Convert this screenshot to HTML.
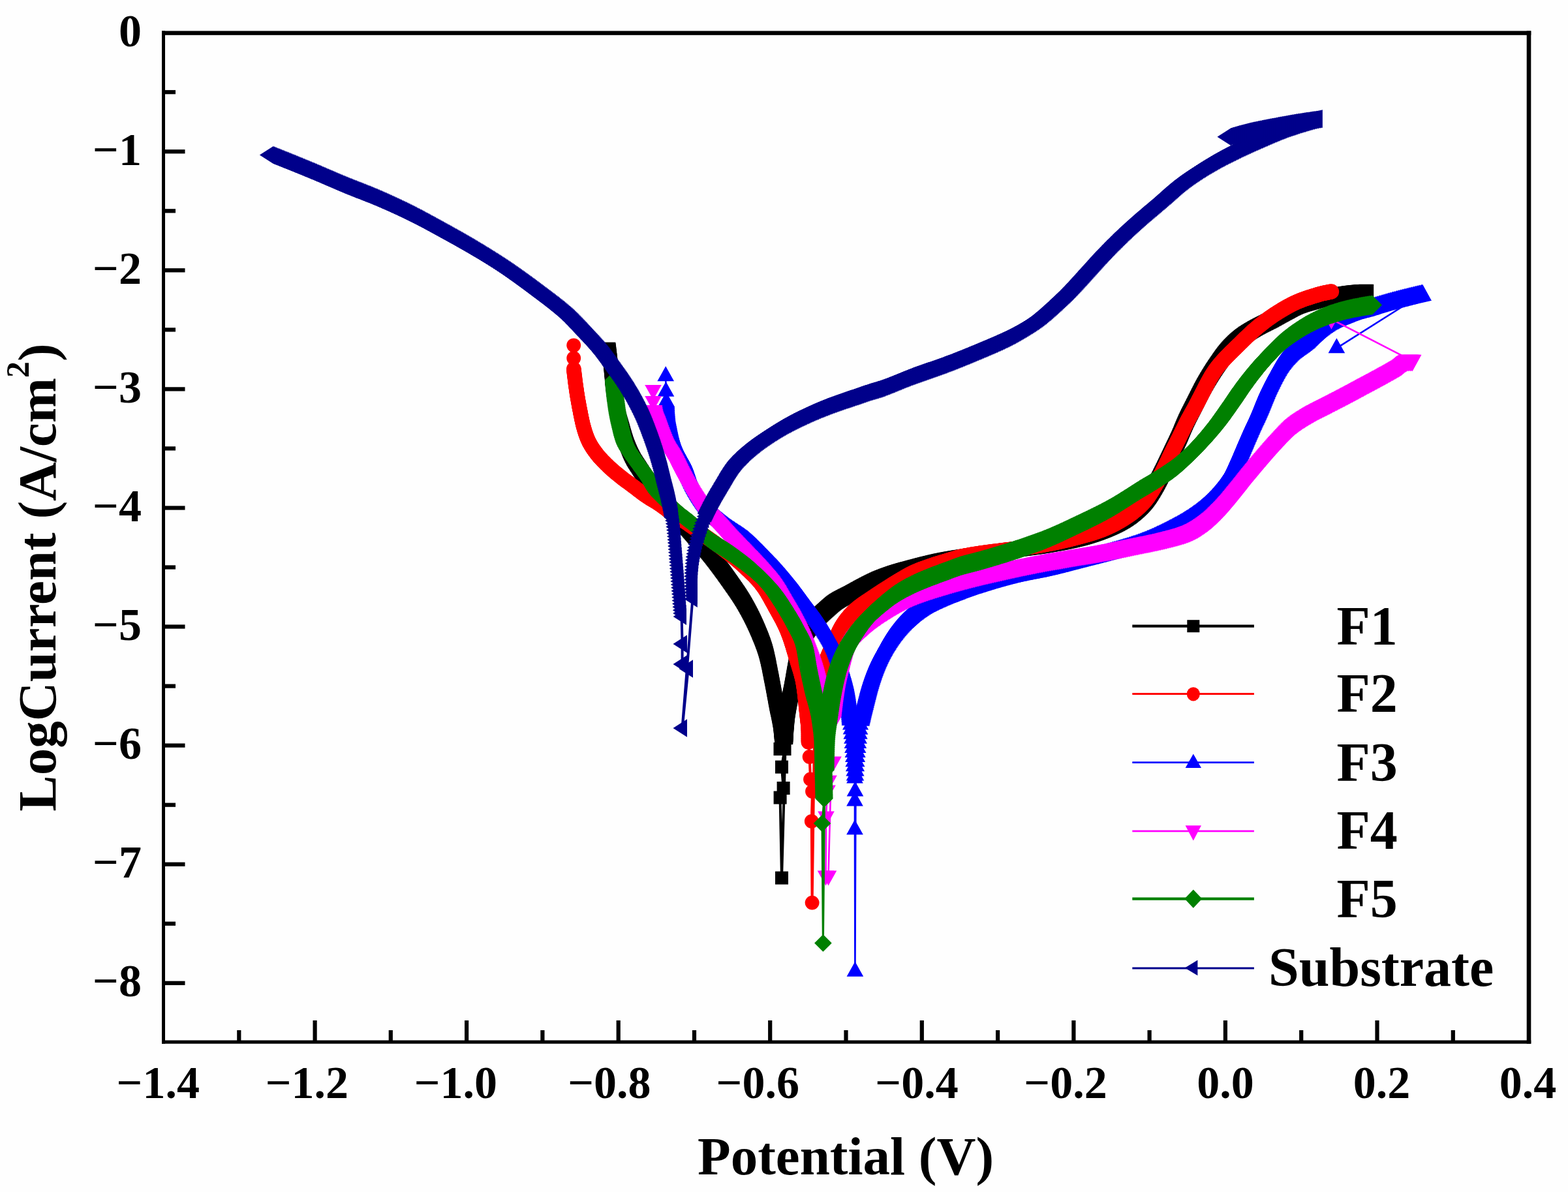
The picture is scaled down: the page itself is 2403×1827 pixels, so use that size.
<!DOCTYPE html>
<html lang="en"><head><meta charset="utf-8"><title>Polarization curves</title>
<style>html,body{margin:0;padding:0;background:#fefefe}body{width:2403px;height:1827px;overflow:hidden}svg{display:block}text{font-family:"Liberation Serif",serif;font-weight:bold;fill:#000}.tk{font-size:70px}.ti{font-size:83px}.lg{font-size:84px}</style></head><body>
<svg xmlns="http://www.w3.org/2000/svg" width="2403" height="1827" viewBox="0 0 2403 1827">
<rect x="0" y="0" width="2403" height="1827" fill="#fefefe"/>
<g id="plot">
<g id="F1">
<polyline fill="none" stroke="#000000" stroke-width="4.0" stroke-linejoin="round" points="1198,1137.5 1195.5,1148 1202.5,1148 1198,1175.6 1200.6,1208 1195.6,1222.5 1198,1345.6 1204,1130"/>
<marker id="m1_0" markerUnits="userSpaceOnUse" markerWidth="60" markerHeight="60" viewBox="-30 -30 60 60" refX="0" refY="0" overflow="visible" fill="#000000"><polygon points="-10.4,-10.4 10.4,-10.4 10.4,10.4 -10.4,10.4"/></marker>
<polyline fill="none" stroke="none" marker-start="url(#m1_0)" marker-mid="url(#m1_0)" marker-end="url(#m1_0)" points="933,535 933.2,536.5 933.4,538 933.6,539.5 933.8,540.9 933.9,542.4 934.1,543.9 934.3,545.4 934.5,546.9 934.7,548.4 934.8,549.9 935,551.4 935.2,552.8 935.4,554.3 935.5,555.8 935.7,557.3 935.9,558.8 936,560.3 936.2,561.8 936.3,563.3 936.5,564.8 936.6,566.3 936.8,567.7 936.9,569.2 937.1,570.7 937.2,572.2 937.3,573.7 937.5,575.2 937.6,576.7 937.7,578.2 937.9,579.7 938,581.2 938.2,582.7 938.3,584.2 938.5,585.6 938.7,587.1 938.8,588.6 939,590.1 939.2,591.6 939.4,593.1 939.6,594.6 939.8,596.1 940,597.5 940.2,599 940.5,600.5 940.7,602 940.9,603.5 941.2,604.9 941.4,606.4 941.7,607.9 941.9,609.4 942.2,610.8 942.4,612.3 942.7,613.8 943,615.3 943.3,616.7 943.6,618.2 943.8,619.7 944.1,621.2 944.4,622.6 944.7,624.1 945,625.6 945.4,627 945.7,628.5 946,630 946.3,631.4 946.7,632.9 947,634.3 947.4,635.8 947.8,637.2 948.2,638.7 948.6,640.1 949,641.6 949.4,643 949.8,644.4 950.3,645.9 950.7,647.3 951.1,648.7 951.6,650.2 952,651.6 952.4,653 952.8,654.5 953.3,655.9 953.7,657.4 954.1,658.8 954.5,660.2 954.9,661.7 955.3,663.1 955.7,664.6 956.1,666 956.5,667.4 957,668.9 957.4,670.3 957.8,671.8 958.2,673.2 958.7,674.6 959.2,676 959.6,677.5 960.1,678.9 960.6,680.3 961.1,681.7 961.6,683.1 962.2,684.5 962.7,685.9 963.3,687.3 963.8,688.7 964.4,690.1 965,691.5 965.6,692.8 966.2,694.2 966.8,695.6 967.5,696.9 968.1,698.3 968.8,699.6 969.5,700.9 970.2,702.3 970.9,703.6 971.6,704.9 972.4,706.2 973.2,707.5 974,708.7 974.8,710 975.6,711.2 976.4,712.5 977.2,713.7 978.1,715 978.9,716.2 979.7,717.5 980.5,718.8 981.3,720 982.1,721.3 983,722.5 983.8,723.8 984.6,725.1 985.4,726.3 986.2,727.6 987.1,728.8 987.9,730.1 988.7,731.3 989.5,732.6 990.3,733.8 991.2,735.1 992,736.3 992.8,737.6 993.5,738.9 994.3,740.2 995.1,741.5 995.8,742.8 996.5,744.1 997.3,745.4 998,746.7 998.7,748 999.5,749.3 1000.2,750.6 1001,751.9 1001.8,753.2 1002.6,754.5 1003.4,755.7 1004.2,756.9 1005.1,758.1 1006,759.3 1007,760.5 1007.9,761.6 1008.9,762.8 1010,763.9 1011,764.9 1012,766 1013.1,767.1 1014.1,768.1 1015.2,769.2 1016.3,770.2 1017.3,771.3 1018.4,772.3 1019.5,773.4 1020.5,774.5 1021.6,775.5 1022.6,776.6 1023.6,777.7 1024.7,778.8 1025.7,779.9 1026.7,781 1027.8,782 1028.8,783.1 1029.9,784.2 1030.9,785.3 1031.9,786.4 1033,787.4 1034,788.5 1035.1,789.6 1036.1,790.7 1037.1,791.8 1038.2,792.9 1039.2,794 1040.2,795.1 1041.2,796.2 1042.2,797.3 1043.2,798.4 1044.3,799.5 1045.3,800.6 1046.3,801.7 1047.3,802.8 1048.2,803.9 1049.2,805.1 1050.2,806.2 1051.2,807.3 1052.2,808.4 1053.2,809.6 1054.2,810.7 1055.2,811.8 1056.2,813 1057.1,814.1 1058.1,815.2 1059.1,816.3 1060.1,817.5 1061.1,818.6 1062,819.7 1063,820.9 1064,822 1065,823.1 1066,824.3 1067,825.4 1067.9,826.5 1068.9,827.6 1069.9,828.8 1070.9,829.9 1071.9,831 1072.9,832.2 1073.9,833.3 1074.9,834.4 1075.8,835.5 1076.8,836.7 1077.8,837.8 1078.8,838.9 1079.8,840.1 1080.7,841.2 1081.7,842.4 1082.7,843.5 1083.6,844.7 1084.6,845.8 1085.5,847 1086.5,848.1 1087.4,849.3 1088.4,850.5 1089.3,851.6 1090.2,852.8 1091.2,854 1092.1,855.2 1093,856.3 1093.9,857.5 1094.8,858.7 1095.8,859.9 1096.7,861.1 1097.6,862.3 1098.5,863.5 1099.4,864.7 1100.3,865.9 1101.2,867.1 1102.1,868.3 1103,869.5 1103.9,870.7 1104.8,871.9 1105.6,873.1 1106.5,874.3 1107.4,875.5 1108.3,876.7 1109.2,877.9 1110.1,879.1 1110.9,880.4 1111.8,881.6 1112.7,882.8 1113.5,884 1114.4,885.2 1115.3,886.5 1116.1,887.7 1117,888.9 1117.9,890.1 1118.7,891.4 1119.6,892.6 1120.5,893.8 1121.3,895 1122.2,896.3 1123,897.5 1123.9,898.7 1124.8,899.9 1125.6,901.2 1126.5,902.4 1127.3,903.6 1128.2,904.9 1129,906.1 1129.9,907.4 1130.7,908.6 1131.5,909.8 1132.4,911.1 1133.2,912.3 1134,913.6 1134.8,914.9 1135.6,916.1 1136.4,917.4 1137.2,918.7 1138,919.9 1138.8,921.2 1139.5,922.5 1140.3,923.8 1141.1,925.1 1141.8,926.4 1142.5,927.7 1143.3,929 1144,930.3 1144.7,931.6 1145.5,932.9 1146.2,934.2 1146.9,935.6 1147.6,936.9 1148.3,938.2 1149,939.5 1149.7,940.9 1150.4,942.2 1151.1,943.5 1151.7,944.9 1152.4,946.2 1153.1,947.5 1153.7,948.9 1154.4,950.2 1155,951.6 1155.7,952.9 1156.3,954.3 1156.9,955.7 1157.6,957 1158.2,958.4 1158.8,959.8 1159.4,961.1 1160,962.5 1160.6,963.9 1161.2,965.2 1161.8,966.6 1162.4,968 1162.9,969.4 1163.5,970.8 1164.1,972.2 1164.7,973.5 1165.2,974.9 1165.8,976.3 1166.4,977.7 1166.9,979.1 1167.5,980.5 1168,981.9 1168.5,983.3 1169,984.7 1169.6,986.1 1170.1,987.5 1170.6,988.9 1171,990.3 1171.5,991.8 1172,993.2 1172.4,994.6 1172.9,996.1 1173.3,997.5 1173.7,998.9 1174.1,1000.4 1174.5,1001.8 1174.9,1003.3 1175.2,1004.7 1175.6,1006.2 1175.9,1007.6 1176.3,1009.1 1176.6,1010.6 1176.9,1012 1177.2,1013.5 1177.6,1015 1177.9,1016.4 1178.2,1017.9 1178.5,1019.4 1178.8,1020.8 1179,1022.3 1179.3,1023.8 1179.6,1025.2 1179.9,1026.7 1180.2,1028.2 1180.5,1029.7 1180.8,1031.1 1181,1032.6 1181.3,1034.1 1181.6,1035.5 1181.9,1037 1182.2,1038.5 1182.5,1039.9 1182.8,1041.4 1183.1,1042.9 1183.3,1044.4 1183.6,1045.8 1183.9,1047.3 1184.2,1048.8 1184.4,1050.3 1184.7,1051.7 1185,1053.2 1185.3,1054.7 1185.5,1056.1 1185.8,1057.6 1186.1,1059.1 1186.3,1060.6 1186.6,1062 1186.9,1063.5 1187.2,1065 1187.4,1066.5 1187.7,1067.9 1188,1069.4 1188.2,1070.9 1188.5,1072.4 1188.8,1073.8 1189.1,1075.3 1189.3,1076.8 1189.6,1078.2 1189.9,1079.7 1190.2,1081.2 1190.5,1082.7 1190.8,1084.1 1191.1,1085.6 1191.5,1087.1 1191.8,1088.5 1192.1,1090 1192.4,1091.4 1192.7,1092.9 1193,1094.4 1193.3,1095.9 1193.6,1097.3 1193.9,1098.8 1194.1,1100.3 1194.4,1101.7 1194.7,1103.2 1194.9,1104.7 1195.2,1106.2 1195.4,1107.7 1195.6,1109.1 1195.8,1110.6 1196,1112.1 1196.1,1113.6 1196.3,1115.1 1196.4,1116.6 1196.6,1118.1 1196.7,1119.6 1196.9,1121.1 1197,1122.5 1197.1,1124 1197.3,1125.5 1197.4,1127 1197.5,1128.5 1197.6,1130 1197.7,1131.5 1197.8,1133 1197.9,1134.5 1197.9,1136 1198,1137.5"/>
<marker id="m1_1" markerUnits="userSpaceOnUse" markerWidth="60" markerHeight="60" viewBox="-30 -30 60 60" refX="0" refY="0" overflow="visible" fill="#000000"><polygon points="-11.2,-11.2 11.2,-11.2 11.2,11.2 -11.2,11.2"/></marker>
<polyline fill="none" stroke="none" marker-start="url(#m1_1)" marker-mid="url(#m1_1)" marker-end="url(#m1_1)" points="1204,1130 1204,1128.5 1204.1,1127 1204.2,1125.5 1204.2,1124 1204.3,1122.5 1204.4,1121 1204.5,1119.5 1204.6,1118 1204.7,1116.5 1204.8,1115 1204.9,1113.5 1205,1112 1205.1,1110.5 1205.2,1109 1205.3,1107.5 1205.5,1106.1 1205.6,1104.6 1205.7,1103.1 1205.9,1101.6 1206,1100.1 1206.1,1098.6 1206.3,1097.1 1206.5,1095.6 1206.6,1094.1 1206.8,1092.6 1207,1091.1 1207.2,1089.7 1207.5,1088.2 1207.7,1086.7 1207.9,1085.2 1208.2,1083.7 1208.4,1082.2 1208.7,1080.8 1208.9,1079.3 1209.2,1077.8 1209.5,1076.3 1209.7,1074.9 1210,1073.4 1210.3,1071.9 1210.6,1070.4 1210.9,1069 1211.1,1067.5 1211.4,1066 1211.7,1064.6 1212,1063.1 1212.3,1061.6 1212.6,1060.1 1212.9,1058.7 1213.2,1057.2 1213.4,1055.7 1213.7,1054.3 1214,1052.8 1214.3,1051.3 1214.5,1049.8 1214.8,1048.4 1215.1,1046.9 1215.3,1045.4 1215.6,1043.9 1215.8,1042.4 1216.1,1041 1216.3,1039.5 1216.6,1038 1216.9,1036.5 1217.1,1035.1 1217.4,1033.6 1217.6,1032.1 1217.9,1030.6 1218.2,1029.1 1218.4,1027.7 1218.7,1026.2 1219,1024.7 1219.3,1023.3 1219.5,1021.8 1219.8,1020.3 1220.1,1018.8 1220.4,1017.4 1220.7,1015.9 1221,1014.4 1221.3,1013 1221.7,1011.5 1222,1010 1222.3,1008.6 1222.7,1007.1 1223,1005.6 1223.3,1004.2 1223.7,1002.7 1224,1001.3 1224.3,999.8 1224.7,998.3 1225.1,996.9 1225.4,995.4 1225.8,994 1226.2,992.5 1226.6,991.1 1227,989.6 1227.4,988.2 1227.8,986.8 1228.2,985.3 1228.7,983.9 1229.2,982.5 1229.6,981.1 1230.2,979.6 1230.7,978.2 1231.2,976.8 1231.8,975.5 1232.4,974.1 1233.1,972.7 1233.7,971.4 1234.5,970.1 1235.2,968.8 1236,967.5 1236.9,966.3 1237.7,965 1238.6,963.8 1239.5,962.6 1240.4,961.4 1241.3,960.2 1242.3,959.1 1243.2,957.9 1244.2,956.8 1245.1,955.6 1246.1,954.5 1247.1,953.3 1248.1,952.2 1249.1,951.1 1250,950 1251,948.8 1252,947.7 1253.1,946.6 1254.1,945.5 1255.2,944.5 1256.2,943.4 1257.3,942.4 1258.4,941.4 1259.5,940.3 1260.6,939.3 1261.7,938.3 1262.8,937.3 1263.9,936.3 1265.1,935.3 1266.2,934.3 1267.3,933.3 1268.4,932.3 1269.5,931.3 1270.6,930.3 1271.8,929.3 1272.9,928.3 1274,927.3 1275.2,926.4 1276.4,925.4 1277.5,924.5 1278.7,923.6 1279.9,922.7 1281.2,921.9 1282.4,921.1 1283.7,920.3 1285,919.5 1286.3,918.7 1287.6,918 1288.9,917.3 1290.2,916.6 1291.6,915.9 1292.9,915.2 1294.2,914.5 1295.6,913.8 1296.9,913.2 1298.3,912.5 1299.6,911.8 1300.9,911.1 1302.3,910.5 1303.6,909.8 1304.9,909.1 1306.2,908.4 1307.6,907.6 1308.9,906.9 1310.2,906.2 1311.5,905.5 1312.8,904.7 1314.1,904 1315.4,903.3 1316.8,902.6 1318.1,901.8 1319.4,901.1 1320.7,900.4 1322,899.7 1323.3,899 1324.7,898.3 1326,897.6 1327.3,896.9 1328.6,896.2 1330,895.5 1331.3,894.8 1332.7,894.1 1334,893.5 1335.3,892.8 1336.7,892.1 1338,891.5 1339.4,890.8 1340.7,890.2 1342.1,889.5 1343.4,888.9 1344.8,888.3 1346.2,887.6 1347.5,887 1348.9,886.5 1350.3,885.9 1351.7,885.3 1353.1,884.8 1354.5,884.2 1355.9,883.7 1357.3,883.1 1358.7,882.6 1360.1,882.1 1361.5,881.6 1362.9,881.1 1364.3,880.6 1365.7,880.1 1367.2,879.6 1368.6,879.1 1370,878.6 1371.4,878.1 1372.9,877.7 1374.3,877.2 1375.7,876.8 1377.1,876.3 1378.6,875.9 1380,875.5 1381.5,875.1 1382.9,874.6 1384.3,874.2 1385.8,873.8 1387.2,873.4 1388.7,873 1390.1,872.6 1391.6,872.3 1393,871.9 1394.5,871.5 1395.9,871.1 1397.4,870.7 1398.8,870.3 1400.3,869.9 1401.7,869.5 1403.2,869.1 1404.6,868.8 1406.1,868.4 1407.5,868 1409,867.6 1410.4,867.2 1411.9,866.8 1413.3,866.4 1414.8,866.1 1416.2,865.7 1417.7,865.3 1419.1,864.9 1420.6,864.6 1422,864.2 1423.5,863.9 1424.9,863.5 1426.4,863.2 1427.9,862.8 1429.3,862.5 1430.8,862.1 1432.2,861.8 1433.7,861.5 1435.2,861.1 1436.6,860.8 1438.1,860.5 1439.6,860.1 1441,859.8 1442.5,859.5 1444,859.2 1445.4,858.9 1446.9,858.6 1448.4,858.3 1449.8,858 1451.3,857.8 1452.8,857.5 1454.3,857.2 1455.7,856.9 1457.2,856.7 1458.7,856.4 1460.2,856.2 1461.6,855.9 1463.1,855.7 1464.6,855.4 1466.1,855.2 1467.6,854.9 1469,854.7 1470.5,854.5 1472,854.2 1473.5,854 1475,853.8 1476.5,853.5 1477.9,853.3 1479.4,853.1 1480.9,852.9 1482.4,852.6 1483.9,852.4 1485.3,852.2 1486.8,852 1488.3,851.7 1489.8,851.5 1491.3,851.3 1492.8,851.1 1494.2,850.9 1495.7,850.6 1497.2,850.4 1498.7,850.2 1500.2,850 1501.7,849.8 1503.1,849.5 1504.6,849.3 1506.1,849.1 1507.6,848.9 1509.1,848.7 1510.6,848.5 1512.1,848.2 1513.5,848 1515,847.8 1516.5,847.6 1518,847.4 1519.5,847.2 1521,847 1522.4,846.8 1523.9,846.6 1525.4,846.4 1526.9,846.2 1528.4,846 1529.9,845.8 1531.4,845.6 1532.8,845.4 1534.3,845.2 1535.8,845 1537.3,844.8 1538.8,844.6 1540.3,844.3 1541.8,844.1 1543.3,843.9 1544.7,843.7 1546.2,843.5 1547.7,843.3 1549.2,843.1 1550.7,842.9 1552.2,842.7 1553.6,842.5 1555.1,842.3 1556.6,842.1 1558.1,841.9 1559.6,841.7 1561.1,841.5 1562.6,841.3 1564.1,841.1 1565.5,840.9 1567,840.7 1568.5,840.5 1570,840.3 1571.5,840.1 1573,839.9 1574.5,839.7 1575.9,839.5 1577.4,839.3 1578.9,839.1 1580.4,838.9 1581.9,838.7 1583.4,838.5 1584.9,838.3 1586.3,838.1 1587.8,837.9 1589.3,837.7 1590.8,837.4 1592.3,837.2 1593.8,837 1595.2,836.8 1596.7,836.5 1598.2,836.3 1599.7,836.1 1601.2,835.8 1602.6,835.6 1604.1,835.3 1605.6,835.1 1607.1,834.8 1608.6,834.6 1610,834.3 1611.5,834 1613,833.8 1614.5,833.5 1615.9,833.2 1617.4,833 1618.9,832.7 1620.4,832.4 1621.8,832.1 1623.3,831.9 1624.8,831.6 1626.3,831.3 1627.7,831 1629.2,830.7 1630.7,830.4 1632.1,830.1 1633.6,829.8 1635.1,829.5 1636.5,829.1 1638,828.8 1639.5,828.5 1640.9,828.2 1642.4,827.8 1643.8,827.5 1645.3,827.1 1646.8,826.8 1648.2,826.4 1649.7,826.1 1651.1,825.7 1652.6,825.3 1654,825 1655.5,824.6 1656.9,824.2 1658.4,823.8 1659.8,823.4 1661.3,822.9 1662.7,822.5 1664.1,822.1 1665.6,821.6 1667,821.2 1668.4,820.7 1669.9,820.3 1671.3,819.8 1672.7,819.4 1674.1,818.9 1675.5,818.4 1677,817.9 1678.4,817.4 1679.8,816.9 1681.2,816.4 1682.6,815.9 1684,815.3 1685.4,814.8 1686.8,814.3 1688.2,813.7 1689.6,813.2 1691,812.6 1692.4,812.1 1693.8,811.5 1695.2,810.9 1696.5,810.3 1697.9,809.7 1699.3,809.1 1700.7,808.5 1702,807.9 1703.4,807.3 1704.7,806.6 1706.1,806 1707.5,805.3 1708.8,804.7 1710.1,804 1711.5,803.3 1712.8,802.6 1714.1,801.9 1715.4,801.2 1716.7,800.4 1718,799.7 1719.3,798.9 1720.6,798.2 1721.9,797.4 1723.2,796.6 1724.4,795.8 1725.7,794.9 1726.9,794.1 1728.1,793.2 1729.4,792.4 1730.6,791.5 1731.8,790.6 1733,789.7 1734.1,788.7 1735.3,787.8 1736.5,786.9 1737.6,785.9 1738.8,784.9 1739.9,784 1741,783 1742.2,782 1743.3,781 1744.4,779.9 1745.4,778.9 1746.5,777.9 1747.6,776.8 1748.6,775.7 1749.7,774.6 1750.7,773.5 1751.7,772.4 1752.7,771.3 1753.7,770.2 1754.7,769 1755.6,767.9 1756.5,766.7 1757.4,765.5 1758.3,764.3 1759.2,763.1 1760.1,761.9 1760.9,760.6 1761.8,759.4 1762.6,758.1 1763.4,756.9 1764.2,755.6 1765,754.3 1765.8,753 1766.6,751.8 1767.3,750.5 1768.1,749.2 1768.9,747.9 1769.6,746.6 1770.4,745.3 1771.1,744 1771.9,742.7 1772.6,741.4 1773.3,740.1 1774,738.8 1774.7,737.4 1775.4,736.1 1776.1,734.8 1776.8,733.4 1777.5,732.1 1778.2,730.8 1778.8,729.4 1779.5,728.1 1780.2,726.7 1780.8,725.4 1781.5,724.1 1782.2,722.7 1782.8,721.4 1783.5,720 1784.2,718.7 1784.8,717.3 1785.5,716 1786.1,714.6 1786.8,713.3 1787.4,711.9 1788.1,710.6 1788.7,709.2 1789.4,707.9 1790,706.5 1790.7,705.2 1791.3,703.8 1791.9,702.5 1792.6,701.1 1793.2,699.7 1793.9,698.4 1794.5,697 1795.2,695.7 1795.8,694.3 1796.4,693 1797.1,691.6 1797.7,690.3 1798.4,688.9 1799,687.6 1799.7,686.2 1800.3,684.9 1801,683.5 1801.6,682.2 1802.3,680.8 1802.9,679.4 1803.5,678.1 1804.2,676.7 1804.8,675.4 1805.4,674 1806.1,672.6 1806.7,671.3 1807.3,669.9 1807.9,668.5 1808.5,667.2 1809.1,665.8 1809.7,664.4 1810.2,663 1810.8,661.6 1811.4,660.2 1812,658.9 1812.5,657.5 1813.1,656.1 1813.7,654.7 1814.3,653.3 1814.9,651.9 1815.5,650.6 1816.1,649.2 1816.7,647.8 1817.3,646.5 1817.9,645.1 1818.6,643.7 1819.2,642.4 1819.9,641 1820.5,639.7 1821.2,638.3 1821.8,637 1822.5,635.7 1823.2,634.3 1823.9,633 1824.6,631.6 1825.2,630.3 1825.9,629 1826.6,627.6 1827.3,626.3 1828,625 1828.7,623.6 1829.3,622.3 1830,621 1830.7,619.6 1831.4,618.3 1832,616.9 1832.7,615.6 1833.4,614.3 1834.1,612.9 1834.7,611.6 1835.4,610.2 1836.1,608.9 1836.7,607.6 1837.4,606.2 1838.1,604.9 1838.8,603.5 1839.5,602.2 1840.2,600.9 1840.8,599.5 1841.5,598.2 1842.2,596.9 1842.9,595.6 1843.7,594.2 1844.4,592.9 1845.1,591.6 1845.8,590.3 1846.6,589 1847.3,587.7 1848.1,586.4 1848.8,585.1 1849.6,583.8 1850.3,582.5 1851.1,581.2 1851.9,579.9 1852.6,578.7 1853.4,577.4 1854.2,576.1 1855,574.8 1855.8,573.5 1856.6,572.3 1857.4,571 1858.2,569.7 1859,568.5 1859.8,567.2 1860.6,566 1861.5,564.7 1862.3,563.5 1863.1,562.2 1864,561 1864.8,559.7 1865.7,558.5 1866.5,557.3 1867.4,556 1868.2,554.8 1869.1,553.6 1869.9,552.3 1870.8,551.1 1871.6,549.9 1872.5,548.7 1873.4,547.4 1874.3,546.2 1875.2,545 1876.1,543.8 1877,542.6 1877.9,541.5 1878.9,540.3 1879.8,539.1 1880.8,538 1881.7,536.8 1882.7,535.7 1883.7,534.6 1884.7,533.5 1885.7,532.4 1886.7,531.3 1887.8,530.2 1888.8,529.1 1889.9,528 1891,527 1892,525.9 1893.1,524.9 1894.2,523.9 1895.3,522.9 1896.4,521.9 1897.6,520.9 1898.7,519.9 1899.9,519 1901,518 1902.2,517.1 1903.4,516.1 1904.6,515.2 1905.8,514.3 1907,513.5 1908.2,512.6 1909.4,511.7 1910.7,510.9 1912,510.1 1913.2,509.3 1914.5,508.5 1915.8,507.7 1917.1,506.9 1918.3,506.2 1919.6,505.4 1920.9,504.7 1922.2,503.9 1923.5,503.2 1924.8,502.4 1926.2,501.7 1927.5,501 1928.8,500.3 1930.1,499.6 1931.4,498.9 1932.8,498.2 1934.1,497.5 1935.5,496.9 1936.8,496.2 1938.1,495.5 1939.5,494.9 1940.8,494.2 1942.2,493.5 1943.5,492.8 1944.9,492.2 1946.2,491.5 1947.5,490.8 1948.8,490.1 1950.1,489.3 1951.5,488.6 1952.8,487.9 1954.1,487.2 1955.4,486.4 1956.7,485.7 1958,485 1959.3,484.2 1960.6,483.5 1961.9,482.8 1963.3,482.1 1964.6,481.4 1965.9,480.6 1967.2,479.9 1968.6,479.2 1969.9,478.5 1971.2,477.8 1972.5,477.1 1973.8,476.4 1975.1,475.7 1976.5,474.9 1977.8,474.2 1979.1,473.5 1980.4,472.8 1981.8,472.2 1983.1,471.5 1984.5,470.9 1985.9,470.3 1987.2,469.7 1988.6,469.2 1990.1,468.7 1991.5,468.2 1992.9,467.7 1994.3,467.2 1995.7,466.8 1997.2,466.3 1998.6,465.9 2000.1,465.5 2001.5,465.1 2003,464.7 2004.4,464.3 2005.8,463.9 2007.3,463.5 2008.7,463.1 2010.2,462.7 2011.6,462.3 2013.1,461.8 2014.5,461.4 2015.9,461 2017.4,460.6 2018.8,460.2 2020.3,459.8 2021.7,459.4 2023.2,459.1 2024.6,458.7 2026.1,458.3 2027.5,457.9 2029,457.6 2030.4,457.2 2031.9,456.8 2033.3,456.5 2034.8,456.1 2036.3,455.7 2037.7,455.4 2039.2,455 2040.6,454.7 2042.1,454.4 2043.6,454 2045,453.7 2046.5,453.4 2048,453.1 2049.4,452.8 2050.9,452.5 2052.4,452.2 2053.8,451.9 2055.3,451.6 2056.8,451.4 2058.3,451.1 2059.7,450.8 2061.2,450.6 2062.7,450.3 2064.2,450.1 2065.7,449.8 2067.1,449.6 2068.6,449.4 2070.1,449.2 2071.6,449 2073.1,448.8 2074.6,448.7 2076.1,448.5 2077.6,448.3 2079.1,448.2 2080.5,448 2082,447.9 2083.5,447.8 2085,447.6 2086.5,447.5 2088,447.4 2089.5,447.3 2091,447.2 2092.5,447.1 2094,447"/>
<marker id="m1" markerUnits="userSpaceOnUse" markerWidth="60" markerHeight="60" viewBox="-30 -30 60 60" refX="0" refY="0" overflow="visible" fill="#000000"><polygon points="-10,-10 10,-10 10,10 -10,10"/></marker>
<polyline fill="none" stroke="none" marker-start="url(#m1)" marker-mid="url(#m1)" marker-end="url(#m1)" points="1195.5,1148 1202.5,1148 1198,1175.6 1200.6,1208 1195.6,1222.5 1198,1345.6"/>
</g>
<g id="F2">
<polyline fill="none" stroke="#ff0000" stroke-width="4.0" stroke-linejoin="round" points="1239,1137.5 1240.6,1160 1242,1194.4 1245,1213 1243.8,1258.8 1244.6,1383.6 1248,1130"/>
<marker id="m2_0" markerUnits="userSpaceOnUse" markerWidth="60" markerHeight="60" viewBox="-30 -30 60 60" refX="0" refY="0" overflow="visible" fill="#ff0000"><circle cx="0" cy="0" r="11.34"/></marker>
<polyline fill="none" stroke="none" marker-start="url(#m2_0)" marker-mid="url(#m2_0)" marker-end="url(#m2_0)" points="879.3,565.5 879.5,567 879.6,568.5 879.8,570 880,571.5 880.1,573 880.3,574.4 880.5,575.9 880.7,577.4 880.9,578.9 881.1,580.4 881.2,581.9 881.4,583.4 881.6,584.9 881.8,586.4 882,587.9 882.2,589.3 882.4,590.8 882.6,592.3 882.8,593.8 883,595.3 883.3,596.8 883.5,598.3 883.7,599.7 883.9,601.2 884.1,602.7 884.4,604.2 884.6,605.7 884.8,607.2 885.1,608.6 885.3,610.1 885.6,611.6 885.8,613.1 886.1,614.6 886.4,616 886.6,617.5 886.9,619 887.2,620.5 887.4,621.9 887.7,623.4 888,624.9 888.3,626.4 888.6,627.8 888.9,629.3 889.2,630.8 889.4,632.3 889.7,633.7 890,635.2 890.3,636.7 890.6,638.1 890.9,639.6 891.2,641.1 891.5,642.6 891.8,644 892.2,645.5 892.5,647 892.8,648.4 893.2,649.9 893.5,651.3 893.9,652.8 894.3,654.2 894.7,655.7 895.1,657.1 895.5,658.6 895.9,660 896.4,661.4 896.9,662.9 897.3,664.3 897.8,665.7 898.3,667.1 898.8,668.5 899.4,669.9 899.9,671.3 900.5,672.7 901.1,674.1 901.7,675.5 902.4,676.8 903,678.2 903.7,679.5 904.5,680.8 905.2,682.1 906,683.4 906.8,684.7 907.6,685.9 908.4,687.2 909.3,688.4 910.1,689.7 911,690.9 911.9,692.1 912.7,693.3 913.6,694.5 914.5,695.7 915.5,696.9 916.4,698.1 917.4,699.2 918.4,700.4 919.3,701.5 920.3,702.6 921.4,703.7 922.4,704.8 923.4,705.9 924.5,707 925.5,708 926.6,709.1 927.6,710.2 928.7,711.2 929.8,712.3 930.9,713.3 931.9,714.4 933,715.4 934.1,716.4 935.2,717.4 936.3,718.4 937.5,719.4 938.6,720.4 939.7,721.4 940.9,722.4 942,723.4 943.1,724.4 944.3,725.3 945.4,726.3 946.6,727.2 947.8,728.2 948.9,729.1 950.1,730.1 951.3,731 952.4,731.9 953.6,732.9 954.8,733.8 956,734.7 957.2,735.6 958.4,736.5 959.6,737.4 960.8,738.3 962.1,739.1 963.3,740 964.5,740.9 965.7,741.8 966.9,742.7 968.1,743.6 969.3,744.5 970.5,745.4 971.7,746.3 972.9,747.2 974.1,748.1 975.3,749 976.5,750 977.7,750.9 978.8,751.8 980,752.7 981.2,753.6 982.4,754.5 983.6,755.4 984.8,756.3 986,757.2 987.3,758.1 988.5,758.9 989.7,759.8 991,760.6 992.2,761.5 993.5,762.3 994.7,763.1 996,763.9 997.3,764.7 998.6,765.4 999.9,766.2 1001.2,767 1002.4,767.7 1003.7,768.5 1005,769.3 1006.3,770.1 1007.6,770.9 1008.8,771.7 1010.1,772.5 1011.3,773.4 1012.5,774.3 1013.8,775.1 1015,776 1016.2,776.9 1017.4,777.8 1018.6,778.7 1019.8,779.6 1021,780.5 1022.2,781.4 1023.4,782.3 1024.6,783.2 1025.8,784 1027.1,784.9 1028.3,785.8 1029.5,786.7 1030.7,787.5 1032,788.3 1033.2,789.2 1034.5,790 1035.8,790.8 1037,791.6 1038.3,792.4 1039.5,793.2 1040.8,794 1042.1,794.8 1043.4,795.7 1044.6,796.5 1045.9,797.3 1047.1,798.1 1048.4,798.9 1049.6,799.8 1050.9,800.6 1052.1,801.4 1053.4,802.3 1054.6,803.1 1055.8,804 1057,804.9 1058.3,805.7 1059.5,806.6 1060.7,807.5 1061.9,808.3 1063.2,809.2 1064.4,810.1 1065.6,811 1066.8,811.8 1068,812.7 1069.3,813.6 1070.5,814.5 1071.7,815.3 1072.9,816.2 1074.1,817.1 1075.4,818 1076.6,818.8 1077.8,819.7 1079,820.6 1080.3,821.4 1081.5,822.3 1082.7,823.2 1083.9,824 1085.2,824.9 1086.4,825.8 1087.6,826.6 1088.8,827.5 1090.1,828.4 1091.3,829.2 1092.5,830.1 1093.7,831 1095,831.8 1096.2,832.7 1097.4,833.6 1098.6,834.5 1099.8,835.4 1101,836.3 1102.2,837.1 1103.5,838 1104.7,838.9 1105.9,839.8 1107.1,840.7 1108.2,841.7 1109.4,842.6 1110.6,843.5 1111.8,844.4 1113,845.3 1114.2,846.3 1115.3,847.2 1116.5,848.1 1117.7,849.1 1118.9,850 1120,850.9 1121.2,851.9 1122.4,852.8 1123.5,853.8 1124.7,854.7 1125.8,855.7 1127,856.7 1128.1,857.6 1129.3,858.6 1130.4,859.6 1131.6,860.6 1132.7,861.5 1133.8,862.5 1134.9,863.5 1136.1,864.5 1137.2,865.5 1138.3,866.6 1139.4,867.6 1140.5,868.6 1141.6,869.6 1142.7,870.6 1143.8,871.7 1144.9,872.7 1146,873.7 1147.1,874.7 1148.2,875.8 1149.2,876.8 1150.3,877.9 1151.4,878.9 1152.5,879.9 1153.5,881 1154.6,882.1 1155.7,883.1 1156.7,884.2 1157.7,885.3 1158.8,886.4 1159.8,887.5 1160.8,888.6 1161.8,889.7 1162.8,890.8 1163.8,892 1164.7,893.1 1165.7,894.3 1166.6,895.5 1167.5,896.7 1168.4,897.9 1169.3,899.1 1170.2,900.3 1171,901.5 1171.9,902.8 1172.7,904 1173.5,905.3 1174.3,906.6 1175.1,907.8 1175.9,909.1 1176.6,910.4 1177.4,911.7 1178.2,913 1178.9,914.3 1179.6,915.6 1180.4,916.9 1181.1,918.2 1181.8,919.6 1182.5,920.9 1183.3,922.2 1184,923.5 1184.7,924.8 1185.4,926.1 1186.2,927.5 1186.9,928.8 1187.6,930.1 1188.3,931.4 1189.1,932.7 1189.8,934 1190.5,935.3 1191.3,936.6 1192,938 1192.7,939.3 1193.5,940.6 1194.2,941.9 1194.9,943.2 1195.6,944.5 1196.3,945.8 1197.1,947.2 1197.8,948.5 1198.5,949.8 1199.2,951.1 1199.8,952.5 1200.5,953.8 1201.2,955.2 1201.9,956.5 1202.5,957.9 1203.2,959.2 1203.8,960.6 1204.4,961.9 1205,963.3 1205.6,964.7 1206.2,966.1 1206.8,967.5 1207.3,968.9 1207.9,970.3 1208.4,971.7 1208.9,973.1 1209.5,974.5 1210,975.9 1210.5,977.3 1211,978.7 1211.4,980.1 1211.9,981.6 1212.4,983 1212.9,984.4 1213.3,985.8 1213.8,987.3 1214.2,988.7 1214.7,990.1 1215.1,991.6 1215.5,993 1216,994.4 1216.4,995.9 1216.8,997.3 1217.3,998.8 1217.7,1000.2 1218.1,1001.6 1218.5,1003.1 1219,1004.5 1219.4,1006 1219.8,1007.4 1220.3,1008.8 1220.7,1010.3 1221.1,1011.7 1221.6,1013.1 1222,1014.6 1222.5,1016 1222.9,1017.4 1223.4,1018.9 1223.8,1020.3 1224.3,1021.7 1224.7,1023.2 1225.1,1024.6 1225.6,1026 1226,1027.5 1226.4,1028.9 1226.9,1030.4 1227.3,1031.8 1227.7,1033.3 1228.1,1034.7 1228.4,1036.2 1228.8,1037.6 1229.2,1039.1 1229.5,1040.5 1229.8,1042 1230.2,1043.5 1230.4,1044.9 1230.7,1046.4 1231,1047.9 1231.2,1049.4 1231.5,1050.9 1231.7,1052.3 1231.9,1053.8 1232.1,1055.3 1232.3,1056.8 1232.5,1058.3 1232.7,1059.8 1232.9,1061.3 1233.1,1062.7 1233.3,1064.2 1233.4,1065.7 1233.6,1067.2 1233.8,1068.7 1233.9,1070.2 1234.1,1071.7 1234.3,1073.2 1234.4,1074.7 1234.6,1076.2 1234.7,1077.7 1234.9,1079.2 1235,1080.7 1235.2,1082.2 1235.3,1083.6 1235.5,1085.1 1235.6,1086.6 1235.8,1088.1 1235.9,1089.6 1236.1,1091.1 1236.3,1092.6 1236.4,1094.1 1236.6,1095.6 1236.8,1097.1 1236.9,1098.6 1237.1,1100.1 1237.3,1101.5 1237.5,1103 1237.6,1104.5 1237.8,1106 1238,1107.5 1238.1,1109 1238.3,1110.5 1238.4,1112 1238.5,1113.5 1238.6,1115 1238.7,1116.5 1238.8,1118 1238.9,1119.5 1238.9,1121 1239,1122.5 1239,1124 1239,1125.5 1239,1127 1239,1128.5 1239,1130 1239,1131.5 1239,1133 1239,1134.5 1239,1136 1239,1137.5"/>
<marker id="m2_1" markerUnits="userSpaceOnUse" markerWidth="60" markerHeight="60" viewBox="-30 -30 60 60" refX="0" refY="0" overflow="visible" fill="#ff0000"><circle cx="0" cy="0" r="11.77"/></marker>
<polyline fill="none" stroke="none" marker-start="url(#m2_1)" marker-mid="url(#m2_1)" marker-end="url(#m2_1)" points="1248,1130 1248.1,1128.5 1248.1,1127 1248.2,1125.5 1248.2,1124 1248.3,1122.5 1248.4,1121 1248.5,1119.5 1248.6,1118 1248.7,1116.5 1248.8,1115 1248.9,1113.5 1249,1112 1249.1,1110.5 1249.2,1109 1249.3,1107.5 1249.5,1106 1249.6,1104.5 1249.7,1103 1249.9,1101.5 1250,1100.1 1250.1,1098.6 1250.3,1097.1 1250.4,1095.6 1250.6,1094.1 1250.8,1092.6 1251,1091.1 1251.2,1089.6 1251.4,1088.1 1251.6,1086.6 1251.8,1085.2 1252,1083.7 1252.3,1082.2 1252.5,1080.7 1252.7,1079.2 1253,1077.7 1253.2,1076.3 1253.5,1074.8 1253.7,1073.3 1254,1071.8 1254.2,1070.3 1254.5,1068.9 1254.7,1067.4 1255,1065.9 1255.2,1064.4 1255.5,1063 1255.7,1061.5 1256,1060 1256.3,1058.5 1256.5,1057 1256.8,1055.6 1257,1054.1 1257.3,1052.6 1257.5,1051.1 1257.8,1049.6 1258,1048.2 1258.3,1046.7 1258.6,1045.2 1258.8,1043.7 1259.1,1042.3 1259.4,1040.8 1259.6,1039.3 1259.9,1037.8 1260.2,1036.4 1260.5,1034.9 1260.8,1033.4 1261.1,1031.9 1261.4,1030.5 1261.8,1029 1262.1,1027.6 1262.4,1026.1 1262.8,1024.6 1263.2,1023.2 1263.5,1021.7 1263.9,1020.3 1264.3,1018.8 1264.8,1017.4 1265.2,1016 1265.7,1014.5 1266.1,1013.1 1266.7,1011.7 1267.2,1010.3 1267.7,1008.9 1268.3,1007.5 1268.8,1006.1 1269.4,1004.7 1270,1003.3 1270.6,1001.9 1271.2,1000.6 1271.8,999.2 1272.4,997.8 1273,996.5 1273.6,995.1 1274.2,993.7 1274.8,992.4 1275.5,991 1276.1,989.6 1276.7,988.3 1277.3,986.9 1277.9,985.5 1278.6,984.1 1279.2,982.8 1279.8,981.4 1280.4,980 1281,978.7 1281.6,977.3 1282.2,975.9 1282.8,974.5 1283.4,973.2 1284.1,971.8 1284.7,970.5 1285.4,969.1 1286,967.8 1286.7,966.4 1287.4,965.1 1288.1,963.8 1288.8,962.4 1289.5,961.1 1290.3,959.8 1291,958.5 1291.8,957.3 1292.6,956 1293.5,954.7 1294.3,953.5 1295.2,952.3 1296.1,951.1 1297,949.9 1297.9,948.7 1298.8,947.5 1299.8,946.4 1300.8,945.2 1301.7,944.1 1302.7,942.9 1303.7,941.8 1304.8,940.7 1305.8,939.6 1306.8,938.6 1307.9,937.5 1309,936.5 1310.1,935.4 1311.2,934.4 1312.3,933.4 1313.5,932.5 1314.6,931.5 1315.8,930.6 1317,929.7 1318.2,928.8 1319.4,927.9 1320.6,927 1321.8,926.1 1323.1,925.3 1324.3,924.4 1325.5,923.6 1326.8,922.7 1328,921.9 1329.3,921.1 1330.5,920.2 1331.8,919.4 1333,918.6 1334.3,917.7 1335.5,916.9 1336.8,916.1 1338,915.2 1339.2,914.4 1340.5,913.5 1341.7,912.7 1343,911.9 1344.2,911 1345.5,910.2 1346.7,909.4 1348,908.6 1349.3,907.7 1350.5,906.9 1351.8,906.1 1353,905.3 1354.3,904.5 1355.6,903.7 1356.8,902.9 1358.1,902.1 1359.4,901.3 1360.6,900.5 1361.9,899.7 1363.2,898.9 1364.4,898.1 1365.7,897.2 1367,896.4 1368.2,895.6 1369.5,894.9 1370.8,894.1 1372.1,893.3 1373.3,892.5 1374.6,891.7 1375.9,890.9 1377.2,890.1 1378.5,889.4 1379.8,888.6 1381.1,887.9 1382.4,887.1 1383.7,886.4 1385,885.6 1386.3,884.8 1387.6,884.1 1388.9,883.3 1390.2,882.6 1391.5,881.9 1392.8,881.1 1394.1,880.4 1395.4,879.7 1396.8,879.1 1398.1,878.4 1399.5,877.7 1400.8,877.1 1402.2,876.5 1403.6,875.9 1405,875.3 1406.3,874.7 1407.7,874.2 1409.1,873.6 1410.5,873.1 1411.9,872.5 1413.3,872 1414.7,871.5 1416.1,870.9 1417.6,870.4 1419,869.9 1420.4,869.4 1421.8,868.9 1423.2,868.4 1424.6,867.9 1426,867.4 1427.5,867 1428.9,866.5 1430.3,866 1431.7,865.6 1433.2,865.1 1434.6,864.6 1436,864.2 1437.5,863.8 1438.9,863.3 1440.3,862.9 1441.8,862.4 1443.2,862 1444.7,861.6 1446.1,861.2 1447.5,860.7 1449,860.3 1450.4,859.9 1451.8,859.4 1453.3,859 1454.7,858.6 1456.2,858.1 1457.6,857.7 1459,857.2 1460.5,856.8 1461.9,856.4 1463.3,856 1464.8,855.5 1466.2,855.1 1467.7,854.7 1469.1,854.3 1470.6,854 1472,853.6 1473.5,853.2 1474.9,852.9 1476.4,852.6 1477.9,852.3 1479.4,852 1480.8,851.7 1482.3,851.4 1483.8,851.2 1485.3,850.9 1486.7,850.6 1488.2,850.4 1489.7,850.1 1491.2,849.9 1492.7,849.6 1494.1,849.4 1495.6,849.2 1497.1,848.9 1498.6,848.7 1500.1,848.5 1501.6,848.3 1503,848 1504.5,847.8 1506,847.6 1507.5,847.4 1509,847.2 1510.5,847 1512,846.8 1513.4,846.6 1514.9,846.4 1516.4,846.2 1517.9,846 1519.4,845.8 1520.9,845.6 1522.4,845.4 1523.9,845.2 1525.4,845.1 1526.8,844.9 1528.3,844.7 1529.8,844.5 1531.3,844.3 1532.8,844.2 1534.3,844 1535.8,843.8 1537.3,843.6 1538.8,843.5 1540.3,843.3 1541.7,843.1 1543.2,842.9 1544.7,842.7 1546.2,842.6 1547.7,842.4 1549.2,842.2 1550.7,842 1552.2,841.8 1553.7,841.7 1555.2,841.5 1556.6,841.3 1558.1,841.1 1559.6,840.9 1561.1,840.7 1562.6,840.5 1564.1,840.3 1565.6,840.1 1567.1,839.9 1568.5,839.7 1570,839.5 1571.5,839.3 1573,839.1 1574.5,838.9 1576,838.7 1577.5,838.4 1578.9,838.2 1580.4,838 1581.9,837.8 1583.4,837.5 1584.9,837.3 1586.4,837.1 1587.8,836.8 1589.3,836.6 1590.8,836.4 1592.3,836.1 1593.8,835.9 1595.2,835.6 1596.7,835.4 1598.2,835.1 1599.7,834.9 1601.2,834.6 1602.6,834.3 1604.1,834.1 1605.6,833.8 1607.1,833.5 1608.5,833.3 1610,833 1611.5,832.7 1613,832.4 1614.4,832.1 1615.9,831.8 1617.4,831.5 1618.8,831.2 1620.3,830.9 1621.8,830.6 1623.3,830.3 1624.7,830 1626.2,829.6 1627.6,829.3 1629.1,829 1630.6,828.6 1632,828.3 1633.5,827.9 1635,827.6 1636.4,827.2 1637.9,826.9 1639.3,826.5 1640.8,826.2 1642.2,825.8 1643.7,825.4 1645.1,825.1 1646.6,824.7 1648.1,824.3 1649.5,823.9 1651,823.5 1652.4,823.2 1653.9,822.8 1655.3,822.4 1656.8,822 1658.2,821.6 1659.7,821.2 1661.1,820.8 1662.6,820.4 1664,820 1665.4,819.6 1666.9,819.2 1668.3,818.8 1669.8,818.4 1671.2,818 1672.6,817.5 1674.1,817.1 1675.5,816.6 1676.9,816.2 1678.4,815.7 1679.8,815.2 1681.2,814.8 1682.6,814.3 1684.1,813.8 1685.5,813.3 1686.9,812.7 1688.3,812.2 1689.7,811.7 1691.1,811.1 1692.5,810.5 1693.8,810 1695.2,809.4 1696.6,808.8 1698,808.2 1699.3,807.5 1700.7,806.9 1702.1,806.3 1703.4,805.6 1704.8,805 1706.1,804.3 1707.4,803.6 1708.8,802.9 1710.1,802.2 1711.4,801.5 1712.7,800.8 1714,800 1715.3,799.3 1716.6,798.6 1717.9,797.8 1719.2,797 1720.5,796.2 1721.8,795.5 1723,794.7 1724.3,793.8 1725.6,793 1726.8,792.2 1728.1,791.3 1729.3,790.5 1730.5,789.6 1731.7,788.8 1733,787.9 1734.2,787 1735.4,786.1 1736.5,785.1 1737.7,784.2 1738.9,783.3 1740.1,782.3 1741.2,781.4 1742.3,780.4 1743.5,779.4 1744.6,778.4 1745.7,777.4 1746.8,776.4 1747.9,775.3 1748.9,774.3 1750,773.2 1751,772.1 1752.1,771 1753.1,769.9 1754.1,768.8 1755,767.6 1756,766.5 1756.9,765.3 1757.8,764.1 1758.7,762.9 1759.6,761.7 1760.4,760.4 1761.3,759.2 1762.1,757.9 1762.9,756.7 1763.7,755.4 1764.5,754.1 1765.3,752.9 1766.1,751.6 1766.9,750.3 1767.6,749 1768.4,747.7 1769.2,746.4 1769.9,745.1 1770.7,743.8 1771.4,742.5 1772.2,741.2 1772.9,739.9 1773.6,738.6 1774.3,737.3 1775,735.9 1775.7,734.6 1776.4,733.3 1777.1,731.9 1777.7,730.6 1778.4,729.3 1779.1,727.9 1779.7,726.6 1780.4,725.2 1781.1,723.9 1781.7,722.5 1782.4,721.2 1783.1,719.8 1783.7,718.5 1784.4,717.2 1785.1,715.8 1785.7,714.5 1786.4,713.1 1787,711.7 1787.7,710.4 1788.3,709 1788.9,707.7 1789.6,706.3 1790.2,705 1790.9,703.6 1791.5,702.2 1792.2,700.9 1792.8,699.5 1793.5,698.2 1794.1,696.8 1794.8,695.5 1795.4,694.1 1796.1,692.8 1796.8,691.4 1797.4,690.1 1798.1,688.8 1798.8,687.4 1799.4,686.1 1800.1,684.7 1800.8,683.4 1801.5,682.1 1802.1,680.7 1802.8,679.4 1803.5,678 1804.1,676.7 1804.8,675.3 1805.5,674 1806.2,672.7 1806.8,671.3 1807.5,670 1808.2,668.6 1808.8,667.3 1809.5,665.9 1810.2,664.6 1810.8,663.2 1811.5,661.9 1812.1,660.5 1812.8,659.2 1813.5,657.9 1814.1,656.5 1814.8,655.2 1815.4,653.8 1816.1,652.5 1816.8,651.1 1817.5,649.8 1818.1,648.4 1818.8,647.1 1819.5,645.8 1820.2,644.4 1820.9,643.1 1821.6,641.8 1822.3,640.5 1823,639.2 1823.8,637.8 1824.5,636.5 1825.2,635.2 1825.9,633.9 1826.7,632.6 1827.4,631.3 1828.1,630 1828.9,628.7 1829.6,627.4 1830.3,626 1831.1,624.7 1831.8,623.4 1832.5,622.1 1833.2,620.8 1833.9,619.4 1834.6,618.1 1835.3,616.8 1836,615.4 1836.6,614.1 1837.3,612.8 1838,611.4 1838.7,610.1 1839.4,608.7 1840.1,607.4 1840.8,606.1 1841.5,604.8 1842.1,603.4 1842.8,602.1 1843.5,600.8 1844.2,599.4 1844.9,598.1 1845.6,596.7 1846.2,595.4 1846.9,594.1 1847.6,592.7 1848.3,591.4 1849,590.1 1849.7,588.7 1850.4,587.4 1851.1,586.1 1851.8,584.8 1852.5,583.5 1853.2,582.1 1854,580.8 1854.7,579.5 1855.5,578.2 1856.2,576.9 1857,575.6 1857.8,574.4 1858.6,573.1 1859.4,571.8 1860.2,570.5 1861,569.3 1861.9,568.1 1862.7,566.8 1863.6,565.6 1864.5,564.4 1865.4,563.2 1866.3,562 1867.2,560.8 1868.2,559.7 1869.1,558.5 1870.1,557.4 1871.1,556.2 1872.1,555.1 1873.1,554 1874.1,552.9 1875.1,551.8 1876.1,550.6 1877.1,549.6 1878.2,548.5 1879.2,547.4 1880.2,546.3 1881.3,545.2 1882.3,544.2 1883.4,543.1 1884.5,542 1885.5,541 1886.6,539.9 1887.7,538.9 1888.7,537.8 1889.8,536.8 1890.9,535.7 1892,534.7 1893,533.6 1894.1,532.6 1895.2,531.5 1896.3,530.5 1897.3,529.4 1898.4,528.4 1899.5,527.3 1900.5,526.3 1901.6,525.2 1902.7,524.2 1903.7,523.1 1904.8,522.1 1905.9,521 1907,520 1908,518.9 1909.1,517.9 1910.2,516.8 1911.3,515.8 1912.4,514.8 1913.5,513.7 1914.5,512.7 1915.6,511.7 1916.7,510.7 1917.9,509.6 1919,508.6 1920.1,507.6 1921.2,506.6 1922.3,505.6 1923.5,504.7 1924.6,503.7 1925.7,502.7 1926.9,501.7 1928,500.8 1929.2,499.8 1930.4,498.9 1931.5,497.9 1932.7,497 1933.9,496.1 1935.1,495.2 1936.3,494.2 1937.4,493.3 1938.6,492.4 1939.8,491.5 1941,490.6 1942.3,489.7 1943.5,488.8 1944.7,488 1945.9,487.1 1947.1,486.2 1948.4,485.4 1949.6,484.5 1950.8,483.7 1952.1,482.8 1953.3,482 1954.6,481.2 1955.8,480.4 1957.1,479.6 1958.4,478.8 1959.7,478 1960.9,477.2 1962.2,476.4 1963.5,475.6 1964.8,474.8 1966.1,474.1 1967.4,473.3 1968.7,472.6 1970,471.8 1971.3,471.1 1972.6,470.3 1973.9,469.6 1975.2,468.9 1976.5,468.2 1977.9,467.5 1979.2,466.8 1980.5,466.1 1981.9,465.5 1983.2,464.8 1984.6,464.2 1986,463.5 1987.3,462.9 1988.7,462.3 1990.1,461.7 1991.5,461.2 1992.9,460.6 1994.3,460.1 1995.7,459.5 1997.1,459 1998.5,458.5 1999.9,458 2001.3,457.5 2002.7,457 2004.2,456.6 2005.6,456.1 2007,455.6 2008.5,455.2 2009.9,454.7 2011.3,454.3 2012.7,453.8 2014.2,453.4 2015.6,452.9 2017,452.5 2018.5,452.1 2019.9,451.6 2021.4,451.2 2022.8,450.8 2024.3,450.4 2025.7,450 2027.2,449.7 2028.6,449.3 2030.1,449 2031.6,448.7 2033,448.4 2034.5,448.1 2036,447.8 2037.4,447.5 2038.9,447.2 2040.4,447"/>
<marker id="m2" markerUnits="userSpaceOnUse" markerWidth="60" markerHeight="60" viewBox="-30 -30 60 60" refX="0" refY="0" overflow="visible" fill="#ff0000"><circle cx="0" cy="0" r="10.90"/></marker>
<polyline fill="none" stroke="none" marker-start="url(#m2)" marker-mid="url(#m2)" marker-end="url(#m2)" points="879.2,529.3 879.2,549 1240.6,1160 1242,1194.4 1245,1213 1243.8,1258.8 1244.6,1383.6"/>
</g>
<g id="F3">
<polyline fill="none" stroke="#0000ff" stroke-width="2.6" stroke-linejoin="round" points="1309.5,1188.9 1310,1192.8 1310.5,1212.8 1310,1227.8 1310,1271.6 1310.4,1489.1 1311.5,1188.9"/>
<polyline fill="none" stroke="#0000ff" stroke-width="2.6" stroke-linejoin="round" points="1020.2,576.7 1020.5,600.2 1021,616.2"/>
<polyline fill="none" stroke="#0000ff" stroke-width="2.6" stroke-linejoin="round" points="2180,450.5 2048.4,533.6"/>
<marker id="m3_0" markerUnits="userSpaceOnUse" markerWidth="60" markerHeight="60" viewBox="-30 -30 60 60" refX="0" refY="0" overflow="visible" fill="#0000ff"><polygon points="0,-12 13.3,12 -13.3,12"/></marker>
<polyline fill="none" stroke="none" marker-start="url(#m3_0)" marker-mid="url(#m3_0)" marker-end="url(#m3_0)" points="1021,612.3 1021,613.8 1021,615.3 1021.1,616.8 1021.2,618.3 1021.2,619.8 1021.3,621.3 1021.4,622.8 1021.5,624.3 1021.6,625.8 1021.8,627.3 1021.9,628.8 1022,630.2 1022.2,631.7 1022.3,633.2 1022.5,634.7 1022.8,636.2 1023,637.7 1023.3,639.1 1023.6,640.6 1023.9,642.1 1024.2,643.6 1024.5,645 1024.8,646.5 1025.1,648 1025.4,649.4 1025.7,650.9 1026,652.4 1026.3,653.8 1026.6,655.3 1027,656.7 1027.3,658.2 1027.7,659.7 1028,661.1 1028.4,662.6 1028.8,664 1029.2,665.4 1029.7,666.9 1030.1,668.3 1030.6,669.7 1031.1,671.2 1031.6,672.6 1032.1,674 1032.7,675.3 1033.3,676.7 1033.9,678.1 1034.5,679.5 1035.1,680.8 1035.7,682.2 1036.3,683.6 1037,684.9 1037.6,686.3 1038.3,687.6 1039,688.9 1039.8,690.2 1040.5,691.5 1041.3,692.8 1042,694.1 1042.8,695.4 1043.6,696.7 1044.3,698 1045.1,699.3 1045.8,700.6 1046.5,701.9 1047.2,703.2 1047.8,704.6 1048.4,706 1049,707.4 1049.5,708.7 1050.1,710.2 1050.6,711.6 1051,713 1051.5,714.4 1052,715.8 1052.5,717.2 1052.9,718.7 1053.4,720.1 1053.9,721.5 1054.3,722.9 1054.8,724.4 1055.3,725.8 1055.9,727.2 1056.4,728.6 1057,729.9 1057.6,731.3 1058.2,732.7 1058.8,734.1 1059.4,735.4 1060.1,736.8 1060.7,738.1 1061.4,739.5 1062.1,740.8 1062.7,742.1 1063.4,743.5 1064.2,744.8 1064.9,746.1 1065.6,747.4 1066.3,748.7 1067.1,750 1067.8,751.3 1068.6,752.6 1069.3,753.9 1070.1,755.2 1070.9,756.5 1071.7,757.7 1072.5,759 1073.3,760.3 1074.1,761.5 1074.9,762.8 1075.8,764 1076.6,765.3 1077.4,766.5 1078.3,767.7 1079.2,768.9 1080.1,770.2 1080.9,771.4 1081.9,772.6 1082.8,773.7 1083.7,774.9 1084.6,776.1 1085.6,777.2 1086.6,778.4 1087.6,779.5 1088.6,780.6 1089.6,781.7 1090.6,782.8 1091.7,783.9 1092.7,784.9 1093.8,786 1094.9,787 1096,788 1097.1,789 1098.2,790 1099.3,791 1100.5,792 1101.6,793 1102.7,793.9 1103.9,794.9 1105.1,795.9 1106.2,796.8 1107.4,797.7 1108.5,798.7 1109.7,799.6 1110.9,800.6 1112.1,801.5 1113.2,802.4 1114.4,803.3 1115.6,804.2 1116.8,805.1 1118,806 1119.2,806.9 1120.5,807.8 1121.7,808.6 1123,809.4 1124.2,810.3 1125.4,811.1 1126.7,811.9 1128,812.7 1129.2,813.6 1130.5,814.4 1131.7,815.2 1133,816 1134.2,816.8 1135.5,817.6 1136.7,818.5 1138,819.3 1139.2,820.2 1140.4,821 1141.7,821.9 1142.9,822.8 1144.1,823.7 1145.3,824.6 1146.4,825.5 1147.6,826.5 1148.7,827.4 1149.9,828.4 1151,829.4 1152.1,830.4 1153.2,831.4 1154.3,832.4 1155.4,833.5 1156.5,834.5 1157.6,835.5 1158.7,836.6 1159.7,837.6 1160.8,838.7 1161.9,839.7 1162.9,840.8 1164,841.9 1165,842.9 1166.1,844 1167.1,845.1 1168.2,846.1 1169.2,847.2 1170.3,848.3 1171.3,849.3 1172.4,850.4 1173.4,851.5 1174.5,852.5 1175.6,853.6 1176.6,854.7 1177.7,855.7 1178.7,856.8 1179.7,857.9 1180.8,858.9 1181.8,860 1182.9,861.1 1183.9,862.2 1184.9,863.3 1186,864.4 1187,865.4 1188,866.5 1189.1,867.6 1190.1,868.7 1191.1,869.8 1192.1,870.9 1193.1,872 1194.1,873.1 1195.1,874.3 1196.1,875.4 1197.1,876.5 1198.1,877.6 1199.1,878.7 1200.1,879.9 1201.1,881 1202.1,882.1 1203.1,883.2 1204,884.4 1205,885.5 1206,886.7 1207,887.8 1207.9,888.9 1208.9,890.1 1209.8,891.2 1210.8,892.4 1211.8,893.5 1212.7,894.7 1213.7,895.9 1214.6,897 1215.6,898.2 1216.5,899.4 1217.4,900.5 1218.4,901.7 1219.3,902.9 1220.2,904 1221.1,905.2 1222.1,906.4 1223,907.6 1223.9,908.8 1224.8,910 1225.7,911.2 1226.6,912.4 1227.5,913.6 1228.4,914.8 1229.2,916 1230.1,917.2 1231,918.4 1231.9,919.6 1232.8,920.8 1233.7,922.1 1234.6,923.3 1235.4,924.5 1236.3,925.7 1237.2,926.9 1238.1,928.1 1239,929.3 1239.9,930.5 1240.8,931.7 1241.7,932.9 1242.6,934.1 1243.5,935.3 1244.4,936.5 1245.3,937.7 1246.2,938.9 1247.1,940.1 1248,941.3 1248.9,942.4 1249.9,943.6 1250.8,944.8 1251.7,946 1252.6,947.2 1253.4,948.4 1254.3,949.6 1255.2,950.8 1256.1,952.1 1257,953.3 1257.8,954.5 1258.7,955.7 1259.5,957 1260.3,958.2 1261.2,959.5 1262,960.7 1262.8,962 1263.6,963.3 1264.4,964.5 1265.2,965.8 1266,967.1 1266.8,968.3 1267.6,969.6 1268.4,970.9 1269.1,972.2 1269.9,973.5 1270.6,974.8 1271.4,976.1 1272.1,977.4 1272.9,978.7 1273.6,980 1274.3,981.3 1275,982.6 1275.7,984 1276.3,985.3 1277,986.7 1277.6,988 1278.2,989.4 1278.8,990.8 1279.4,992.1 1280,993.5 1280.5,994.9 1281.1,996.3 1281.6,997.7 1282.2,999.1 1282.7,1000.5 1283.2,1001.9 1283.7,1003.3 1284.2,1004.8 1284.7,1006.2 1285.1,1007.6 1285.6,1009 1286.1,1010.5 1286.5,1011.9 1287,1013.3 1287.4,1014.7 1287.8,1016.2 1288.3,1017.6 1288.7,1019 1289.1,1020.5 1289.6,1021.9 1290,1023.3 1290.4,1024.8 1290.8,1026.2 1291.3,1027.7 1291.7,1029.1 1292.1,1030.5 1292.5,1032 1292.9,1033.4 1293.3,1034.9 1293.7,1036.3 1294,1037.8 1294.4,1039.2 1294.8,1040.7 1295.1,1042.1 1295.5,1043.6 1295.8,1045.1 1296.1,1046.5 1296.4,1048 1296.7,1049.5 1297,1050.9 1297.2,1052.4 1297.5,1053.9 1297.7,1055.4 1298,1056.8 1298.2,1058.3 1298.5,1059.8 1298.7,1061.3 1298.9,1062.8 1299.1,1064.3 1299.3,1065.7 1299.5,1067.2 1299.7,1068.7 1299.9,1070.2 1300.1,1071.7 1300.3,1073.2 1300.5,1074.7 1300.6,1076.1 1300.8,1077.6 1301,1079.1 1301.1,1080.6 1301.3,1082.1 1301.5,1083.6 1301.6,1085.1 1301.8,1086.6 1301.9,1088.1 1302.1,1089.6 1302.2,1091 1302.4,1092.5 1302.5,1094 1302.6,1095.5 1302.8,1097 1302.9,1098.5 1303,1100"/>
<marker id="m3_1" markerUnits="userSpaceOnUse" markerWidth="60" markerHeight="60" viewBox="-30 -30 60 60" refX="0" refY="0" overflow="visible" fill="#0000ff"><polygon points="0,-12.7 14,12.7 -14,12.7"/></marker>
<polyline fill="none" stroke="none" marker-start="url(#m3_1)" marker-mid="url(#m3_1)" marker-end="url(#m3_1)" points="1319,1100 1319.3,1098.5 1319.7,1097.1 1320,1095.6 1320.4,1094.2 1320.7,1092.7 1321,1091.2 1321.4,1089.8 1321.7,1088.3 1322.1,1086.9 1322.4,1085.4 1322.8,1083.9 1323.1,1082.5 1323.5,1081 1323.9,1079.6 1324.2,1078.1 1324.6,1076.6 1325,1075.2 1325.3,1073.7 1325.7,1072.3 1326,1070.8 1326.4,1069.4 1326.8,1067.9 1327.1,1066.5 1327.5,1065 1327.9,1063.5 1328.2,1062.1 1328.6,1060.6 1329,1059.2 1329.3,1057.7 1329.7,1056.3 1330.1,1054.8 1330.5,1053.4 1330.8,1051.9 1331.2,1050.5 1331.6,1049 1332,1047.6 1332.4,1046.1 1332.8,1044.7 1333.3,1043.2 1333.7,1041.8 1334.1,1040.4 1334.6,1038.9 1335,1037.5 1335.5,1036.1 1335.9,1034.6 1336.4,1033.2 1336.9,1031.8 1337.4,1030.4 1337.8,1029 1338.3,1027.5 1338.8,1026.1 1339.4,1024.7 1339.9,1023.3 1340.4,1021.9 1340.9,1020.5 1341.5,1019.1 1342,1017.7 1342.6,1016.3 1343.2,1014.9 1343.7,1013.5 1344.3,1012.1 1344.9,1010.8 1345.5,1009.4 1346.1,1008 1346.7,1006.7 1347.4,1005.3 1348,1003.9 1348.7,1002.6 1349.3,1001.2 1350,999.9 1350.7,998.6 1351.4,997.2 1352.1,995.9 1352.8,994.6 1353.5,993.3 1354.2,992 1355,990.7 1355.7,989.4 1356.5,988.1 1357.3,986.8 1358.1,985.5 1358.9,984.2 1359.7,983 1360.5,981.7 1361.3,980.4 1362.1,979.2 1363,977.9 1363.8,976.7 1364.7,975.5 1365.5,974.3 1366.4,973 1367.3,971.8 1368.2,970.6 1369.1,969.4 1370,968.2 1370.9,967.1 1371.9,965.9 1372.8,964.7 1373.8,963.6 1374.7,962.4 1375.7,961.3 1376.7,960.1 1377.7,959 1378.7,957.9 1379.7,956.8 1380.7,955.7 1381.8,954.6 1382.8,953.5 1383.9,952.5 1384.9,951.4 1386,950.3 1387.1,949.3 1388.2,948.3 1389.3,947.2 1390.4,946.2 1391.5,945.2 1392.6,944.2 1393.8,943.3 1394.9,942.3 1396.1,941.3 1397.2,940.4 1398.4,939.4 1399.6,938.5 1400.8,937.6 1402,936.7 1403.2,935.8 1404.4,934.9 1405.6,934 1406.8,933.2 1408.1,932.3 1409.3,931.5 1410.6,930.7 1411.9,929.9 1413.1,929.1 1414.4,928.3 1415.7,927.6 1417,926.9 1418.3,926.1 1419.7,925.4 1421,924.7 1422.3,924.1 1423.7,923.4 1425,922.7 1426.4,922.1 1427.7,921.4 1429.1,920.8 1430.5,920.2 1431.8,919.5 1433.2,918.9 1434.6,918.3 1435.9,917.7 1437.3,917.1 1438.7,916.5 1440,915.9 1441.4,915.3 1442.8,914.7 1444.2,914.1 1445.6,913.6 1447,913 1448.4,912.4 1449.8,911.9 1451.2,911.3 1452.6,910.8 1454,910.3 1455.4,909.7 1456.8,909.2 1458.2,908.6 1459.6,908.1 1461,907.6 1462.4,907 1463.8,906.5 1465.2,906 1466.6,905.5 1468,904.9 1469.4,904.4 1470.8,903.9 1472.2,903.4 1473.6,902.8 1475,902.3 1476.4,901.8 1477.8,901.3 1479.3,900.8 1480.7,900.3 1482.1,899.8 1483.5,899.3 1484.9,898.8 1486.4,898.4 1487.8,897.9 1489.2,897.4 1490.6,897 1492.1,896.5 1493.5,896.1 1494.9,895.6 1496.4,895.2 1497.8,894.7 1499.2,894.2 1500.7,893.8 1502.1,893.3 1503.5,892.9 1505,892.5 1506.4,892 1507.8,891.6 1509.3,891.1 1510.7,890.7 1512.1,890.3 1513.6,889.8 1515,889.4 1516.4,889 1517.9,888.6 1519.3,888.2 1520.8,887.7 1522.2,887.3 1523.7,886.9 1525.1,886.5 1526.5,886.1 1528,885.7 1529.4,885.3 1530.9,884.9 1532.3,884.5 1533.8,884.1 1535.2,883.7 1536.7,883.3 1538.1,883 1539.6,882.6 1541,882.2 1542.5,881.8 1544,881.5 1545.4,881.1 1546.9,880.8 1548.3,880.4 1549.8,880.1 1551.2,879.7 1552.7,879.4 1554.2,879 1555.6,878.7 1557.1,878.4 1558.6,878.1 1560,877.8 1561.5,877.5 1563,877.1 1564.4,876.8 1565.9,876.6 1567.4,876.3 1568.9,876 1570.3,875.7 1571.8,875.4 1573.3,875.1 1574.8,874.8 1576.2,874.5 1577.7,874.3 1579.2,874 1580.6,873.7 1582.1,873.4 1583.6,873.1 1585.1,872.8 1586.5,872.5 1588,872.2 1589.5,872 1591,871.7 1592.4,871.3 1593.9,871 1595.4,870.7 1596.8,870.4 1598.3,870.1 1599.8,869.8 1601.2,869.4 1602.7,869.1 1604.1,868.7 1605.6,868.4 1607.1,868 1608.5,867.7 1610,867.3 1611.4,867 1612.9,866.6 1614.4,866.3 1615.8,865.9 1617.3,865.5 1618.7,865.2 1620.2,864.8 1621.6,864.4 1623.1,864 1624.5,863.7 1626,863.3 1627.4,862.9 1628.9,862.5 1630.3,862.1 1631.8,861.8 1633.2,861.4 1634.7,861 1636.1,860.6 1637.6,860.2 1639,859.9 1640.5,859.5 1641.9,859.1 1643.4,858.7 1644.9,858.3 1646.3,858 1647.8,857.6 1649.2,857.2 1650.7,856.8 1652.1,856.5 1653.6,856.1 1655,855.7 1656.5,855.3 1657.9,855 1659.4,854.6 1660.8,854.2 1662.3,853.9 1663.8,853.5 1665.2,853.1 1666.7,852.8 1668.1,852.4 1669.6,852 1671,851.7 1672.5,851.3 1673.9,850.9 1675.4,850.6 1676.9,850.2 1678.3,849.8 1679.8,849.4 1681.2,849.1 1682.7,848.7 1684.1,848.3 1685.6,847.9 1687,847.6 1688.5,847.2 1689.9,846.8 1691.4,846.4 1692.8,846 1694.3,845.6 1695.7,845.2 1697.2,844.8 1698.6,844.4 1700,844 1701.5,843.6 1702.9,843.2 1704.4,842.8 1705.8,842.3 1707.3,841.9 1708.7,841.5 1710.2,841.1 1711.6,840.7 1713,840.3 1714.5,839.9 1715.9,839.5 1717.4,839 1718.8,838.6 1720.2,838.2 1721.7,837.8 1723.1,837.3 1724.6,836.9 1726,836.5 1727.4,836 1728.9,835.6 1730.3,835.1 1731.7,834.7 1733.2,834.2 1734.6,833.8 1736,833.3 1737.4,832.8 1738.9,832.4 1740.3,831.9 1741.7,831.4 1743.1,830.9 1744.5,830.4 1745.9,829.9 1747.4,829.4 1748.8,828.9 1750.2,828.3 1751.6,827.8 1753,827.3 1754.4,826.7 1755.8,826.2 1757.2,825.6 1758.5,825 1759.9,824.4 1761.3,823.9 1762.7,823.3 1764.1,822.7 1765.4,822.1 1766.8,821.5 1768.2,820.9 1769.6,820.2 1770.9,819.6 1772.3,819 1773.6,818.3 1775,817.7 1776.3,817.1 1777.7,816.4 1779.1,815.7 1780.4,815.1 1781.7,814.4 1783.1,813.8 1784.4,813.1 1785.8,812.4 1787.1,811.7 1788.4,811.1 1789.8,810.4 1791.1,809.7 1792.4,809 1793.8,808.3 1795.1,807.6 1796.4,806.9 1797.8,806.2 1799.1,805.5 1800.4,804.8 1801.7,804.1 1803,803.4 1804.4,802.6 1805.7,801.9 1807,801.2 1808.3,800.4 1809.6,799.7 1810.9,798.9 1812.2,798.2 1813.5,797.4 1814.8,796.6 1816,795.8 1817.3,795 1818.6,794.2 1819.8,793.4 1821.1,792.6 1822.4,791.8 1823.6,791 1824.8,790.1 1826.1,789.3 1827.3,788.4 1828.5,787.5 1829.7,786.7 1831,785.8 1832.2,784.9 1833.4,784 1834.6,783.1 1835.8,782.2 1836.9,781.2 1838.1,780.3 1839.3,779.4 1840.5,778.4 1841.6,777.5 1842.8,776.5 1843.9,775.5 1845,774.5 1846.2,773.5 1847.3,772.5 1848.4,771.5 1849.5,770.5 1850.6,769.5 1851.6,768.4 1852.7,767.4 1853.8,766.3 1854.8,765.2 1855.8,764.1 1856.9,763.1 1857.9,762 1858.9,760.8 1859.9,759.7 1860.9,758.6 1861.9,757.5 1862.9,756.3 1863.9,755.2 1864.8,754 1865.8,752.9 1866.7,751.7 1867.6,750.5 1868.6,749.3 1869.5,748.2 1870.4,747 1871.3,745.7 1872.1,744.5 1873,743.3 1873.9,742.1 1874.7,740.8 1875.5,739.6 1876.4,738.3 1877.2,737.1 1878,735.8 1878.8,734.5 1879.5,733.2 1880.3,731.9 1881.1,730.7 1881.8,729.4 1882.6,728.1 1883.3,726.7 1884,725.4 1884.8,724.1 1885.5,722.8 1886.2,721.5 1886.9,720.2 1887.6,718.8 1888.3,717.5 1889,716.2 1889.7,714.8 1890.3,713.5 1891,712.1 1891.6,710.8 1892.3,709.4 1892.9,708.1 1893.5,706.7 1894.1,705.3 1894.8,704 1895.4,702.6 1896,701.2 1896.6,699.9 1897.2,698.5 1897.8,697.1 1898.5,695.8 1899.1,694.4 1899.7,693 1900.3,691.6 1900.9,690.3 1901.5,688.9 1902.1,687.5 1902.7,686.1 1903.3,684.7 1903.8,683.4 1904.4,682 1905,680.6 1905.6,679.2 1906.2,677.8 1906.8,676.5 1907.4,675.1 1908,673.7 1908.5,672.3 1909.1,670.9 1909.7,669.6 1910.3,668.2 1910.9,666.8 1911.5,665.4 1912.1,664.1 1912.7,662.7 1913.3,661.3 1913.9,659.9 1914.5,658.5 1915.1,657.2 1915.7,655.8 1916.3,654.4 1916.9,653 1917.5,651.7 1918.1,650.3 1918.7,648.9 1919.3,647.6 1920,646.2 1920.6,644.8 1921.2,643.5 1921.8,642.1 1922.5,640.7 1923.1,639.4 1923.8,638 1924.4,636.7 1925.1,635.3 1925.7,634 1926.3,632.6 1927,631.2 1927.6,629.9 1928.2,628.5 1928.8,627.1 1929.4,625.8 1930,624.4 1930.6,623 1931.2,621.6 1931.8,620.2 1932.3,618.9 1932.9,617.5 1933.5,616.1 1934,614.7 1934.6,613.3 1935.2,611.9 1935.7,610.5 1936.3,609.1 1936.8,607.7 1937.4,606.3 1938,604.9 1938.5,603.6 1939.1,602.2 1939.7,600.8 1940.3,599.4 1940.8,598 1941.4,596.6 1942,595.3 1942.6,593.9 1943.3,592.5 1943.9,591.1 1944.5,589.8 1945.2,588.4 1945.8,587.1 1946.5,585.7 1947.1,584.4 1947.8,583 1948.4,581.7 1949.1,580.3 1949.8,579 1950.4,577.6 1951.1,576.3 1951.8,575 1952.5,573.6 1953.2,572.3 1953.9,571 1954.6,569.7 1955.3,568.4 1956.1,567 1956.8,565.7 1957.6,564.4 1958.3,563.2 1959.1,561.9 1959.9,560.6 1960.7,559.3 1961.6,558.1 1962.4,556.9 1963.3,555.6 1964.1,554.4 1965,553.2 1966,552 1966.9,550.8 1967.9,549.7 1968.8,548.5 1969.8,547.4 1970.8,546.3 1971.8,545.2 1972.9,544.1 1973.9,543 1975,542 1976,540.9 1977.1,539.9 1978.2,538.9 1979.4,537.9 1980.5,536.9 1981.7,536 1982.9,535.1 1984.1,534.2 1985.3,533.3 1986.5,532.4 1987.7,531.5 1989,530.7 1990.2,529.8 1991.4,529 1992.7,528.1 1993.9,527.2 1995.1,526.3 1996.3,525.4 1997.5,524.5 1998.7,523.6 1999.8,522.6 2001,521.7 2002.1,520.7 2003.2,519.7 2004.3,518.6 2005.4,517.6 2006.4,516.6 2007.5,515.5 2008.6,514.4 2009.6,513.4 2010.7,512.3 2011.8,511.3 2012.9,510.2 2014,509.2 2015.1,508.2 2016.2,507.2 2017.3,506.2 2018.5,505.3 2019.7,504.3 2020.8,503.4 2022,502.5 2023.2,501.6 2024.4,500.7 2025.6,499.8 2026.8,498.9 2028,498 2029.3,497.2 2030.5,496.3 2031.8,495.5 2033,494.7 2034.3,493.9 2035.6,493.1 2036.9,492.4 2038.2,491.7 2039.6,491 2040.9,490.3 2042.2,489.6 2043.6,489 2045,488.4 2046.3,487.8 2047.7,487.2 2049.1,486.6 2050.5,486 2051.9,485.4 2053.3,484.9 2054.7,484.3 2056,483.7 2057.4,483.2 2058.8,482.6 2060.2,482.1 2061.6,481.5 2063,481 2064.4,480.4 2065.8,479.9 2067.2,479.3 2068.6,478.8 2070,478.3 2071.5,477.8 2072.9,477.4 2074.3,476.9 2075.7,476.4 2077.2,476 2078.6,475.6 2080.1,475.2 2081.5,474.8 2083,474.4 2084.4,474.1 2085.9,473.7 2087.3,473.3 2088.8,472.9 2090.2,472.6 2091.7,472.2 2093.1,471.8 2094.6,471.3 2096,470.9 2097.4,470.4 2098.9,470 2100.3,469.5 2101.7,469 2103.1,468.6 2104.6,468.1 2106,467.6 2107.4,467.2 2108.9,466.7 2110.3,466.3 2111.7,465.9 2113.2,465.5 2114.6,465 2116,464.6 2117.5,464.2 2118.9,463.8 2120.4,463.4 2121.8,462.9 2123.3,462.5 2124.7,462.1 2126.1,461.7 2127.6,461.3 2129,460.9 2130.5,460.5 2131.9,460.1 2133.4,459.7 2134.8,459.3 2136.3,458.9 2137.7,458.6 2139.2,458.2 2140.6,457.8 2142.1,457.4 2143.5,457 2145,456.7 2146.4,456.3 2147.9,455.9 2149.4,455.5 2150.8,455.2 2152.3,454.8 2153.7,454.4 2155.2,454.1 2156.6,453.7 2158.1,453.4 2159.5,453 2161,452.6 2162.5,452.3 2163.9,451.9 2165.4,451.6 2166.8,451.2 2168.3,450.9 2169.8,450.5 2171.2,450.2 2172.7,449.9 2174.1,449.5 2175.6,449.2 2177.1,448.9 2178.5,448.5 2180,448.2"/>
<marker id="m3_2" markerUnits="userSpaceOnUse" markerWidth="60" markerHeight="60" viewBox="-30 -30 60 60" refX="0" refY="0" overflow="visible" fill="#0000ff"><polygon points="0,-11.5 12.8,11.5 -12.8,11.5"/></marker>
<polyline fill="none" stroke="none" marker-start="url(#m3_2)" marker-mid="url(#m3_2)" marker-end="url(#m3_2)" points="1303,1100 1303.8,1107.1 1304.5,1114.1 1305.2,1121.2 1305.9,1128.3 1306.4,1135.4 1306.9,1142.4 1307.4,1149.5 1307.8,1156.6 1308.2,1163.7 1308.7,1170.8 1309.1,1177.9 1309.5,1185"/>
<marker id="m3_3" markerUnits="userSpaceOnUse" markerWidth="60" markerHeight="60" viewBox="-30 -30 60 60" refX="0" refY="0" overflow="visible" fill="#0000ff"><polygon points="0,-11.5 12.8,11.5 -12.8,11.5"/></marker>
<polyline fill="none" stroke="none" marker-start="url(#m3_3)" marker-mid="url(#m3_3)" marker-end="url(#m3_3)" points="1311.5,1185 1311.8,1177.9 1312.3,1170.8 1312.7,1163.7 1313.3,1156.6 1313.9,1149.5 1314.7,1142.5 1315.4,1135.4 1316.2,1128.3 1316.9,1121.2 1317.6,1114.2 1318.3,1107.1 1319,1100"/>
<marker id="m3" markerUnits="userSpaceOnUse" markerWidth="60" markerHeight="60" viewBox="-30 -30 60 60" refX="0" refY="0" overflow="visible" fill="#0000ff"><polygon points="0,-11.5 12.8,11.5 -12.8,11.5"/></marker>
<polyline fill="none" stroke="none" marker-start="url(#m3)" marker-mid="url(#m3)" marker-end="url(#m3)" points="1020.2,572.8 1020.5,596.3 1310,1188.9 1310.5,1208.9 1310,1223.9 1310,1267.7 1310.4,1485.2 2048.4,529.7"/>
</g>
<g id="F4">
<polyline fill="none" stroke="#ff00ff" stroke-width="2.6" stroke-linejoin="round" points="1263,1096.1 1277,1167.1 1270,1196.1 1268,1211.1 1266,1251.1 1265.5,1342.1 1269.5,1342.1 1276,1106.1"/>
<polyline fill="none" stroke="#ff00ff" stroke-width="2.6" stroke-linejoin="round" points="2162,551.8 2040.4,489.3"/>
<marker id="m4_0" markerUnits="userSpaceOnUse" markerWidth="60" markerHeight="60" viewBox="-30 -30 60 60" refX="0" refY="0" overflow="visible" fill="#ff00ff"><polygon points="0,12 13.3,-12 -13.3,-12"/></marker>
<polyline fill="none" stroke="none" marker-start="url(#m4_0)" marker-mid="url(#m4_0)" marker-end="url(#m4_0)" points="1002,633 1002.2,634.5 1002.4,636 1002.7,637.4 1003,638.9 1003.3,640.4 1003.7,641.8 1004.2,643.3 1004.7,644.6 1005.3,646 1005.9,647.4 1006.5,648.8 1007.1,650.2 1007.6,651.6 1008.1,653 1008.6,654.4 1009.1,655.8 1009.6,657.2 1010.1,658.7 1010.6,660.1 1011.1,661.5 1011.6,662.9 1012.1,664.3 1012.6,665.7 1013.2,667.1 1013.7,668.5 1014.2,669.9 1014.8,671.3 1015.3,672.7 1015.9,674.1 1016.4,675.5 1017,676.9 1017.5,678.3 1018.1,679.7 1018.7,681.1 1019.3,682.5 1019.9,683.8 1020.6,685.2 1021.3,686.5 1022,687.8 1022.7,689.1 1023.5,690.4 1024.3,691.7 1025.1,693 1025.9,694.2 1026.7,695.5 1027.5,696.8 1028.3,698 1029.1,699.3 1029.9,700.6 1030.7,701.9 1031.4,703.1 1032.2,704.4 1032.9,705.8 1033.6,707.1 1034.3,708.4 1035,709.7 1035.7,711.1 1036.3,712.4 1037,713.8 1037.7,715.1 1038.3,716.5 1039,717.8 1039.6,719.2 1040.3,720.5 1040.9,721.9 1041.6,723.2 1042.2,724.6 1042.9,725.9 1043.6,727.3 1044.3,728.6 1045,729.9 1045.7,731.3 1046.4,732.6 1047.1,733.9 1047.8,735.2 1048.5,736.6 1049.2,737.9 1049.9,739.2 1050.6,740.5 1051.4,741.8 1052.1,743.1 1052.8,744.4 1053.6,745.8 1054.3,747.1 1055.1,748.4 1055.8,749.7 1056.6,751 1057.3,752.2 1058.1,753.5 1058.9,754.8 1059.7,756.1 1060.5,757.4 1061.2,758.7 1062,759.9 1062.8,761.2 1063.6,762.5 1064.4,763.8 1065.2,765 1066,766.3 1066.8,767.5 1067.7,768.8 1068.5,770 1069.3,771.3 1070.2,772.5 1071.1,773.7 1071.9,775 1072.8,776.2 1073.7,777.4 1074.6,778.6 1075.6,779.7 1076.5,780.9 1077.5,782 1078.5,783.1 1079.5,784.2 1080.6,785.3 1081.6,786.4 1082.7,787.5 1083.8,788.5 1084.8,789.6 1085.9,790.6 1087,791.6 1088.1,792.7 1089.2,793.7 1090.3,794.7 1091.3,795.8 1092.4,796.8 1093.5,797.9 1094.5,799 1095.6,800.1 1096.6,801.2 1097.6,802.3 1098.6,803.4 1099.6,804.5 1100.6,805.6 1101.6,806.7 1102.6,807.8 1103.6,808.9 1104.6,810.1 1105.6,811.2 1106.6,812.3 1107.6,813.4 1108.6,814.6 1109.6,815.7 1110.6,816.8 1111.6,817.9 1112.6,819.1 1113.6,820.2 1114.6,821.3 1115.6,822.4 1116.6,823.5 1117.6,824.6 1118.7,825.7 1119.7,826.8 1120.7,827.9 1121.7,829 1122.8,830.1 1123.8,831.2 1124.9,832.2 1125.9,833.3 1126.9,834.4 1128,835.5 1129,836.6 1130.1,837.6 1131.1,838.7 1132.2,839.8 1133.2,840.9 1134.2,841.9 1135.3,843 1136.3,844.1 1137.4,845.2 1138.4,846.3 1139.5,847.3 1140.5,848.4 1141.5,849.5 1142.6,850.6 1143.6,851.7 1144.6,852.8 1145.7,853.9 1146.7,854.9 1147.8,856 1148.8,857.1 1149.8,858.2 1150.9,859.3 1151.9,860.3 1153,861.4 1154,862.5 1155,863.6 1156.1,864.7 1157.1,865.8 1158.1,866.9 1159.1,868 1160.2,869.1 1161.2,870.2 1162.2,871.3 1163.2,872.4 1164.2,873.5 1165.2,874.6 1166.2,875.8 1167.2,876.9 1168.2,878 1169.2,879.2 1170.1,880.3 1171.1,881.4 1172.1,882.6 1173.1,883.7 1174.1,884.8 1175,886 1176,887.1 1177,888.3 1177.9,889.4 1178.9,890.6 1179.8,891.8 1180.7,892.9 1181.7,894.1 1182.6,895.3 1183.5,896.5 1184.4,897.7 1185.3,898.9 1186.1,900.2 1187,901.4 1187.8,902.7 1188.6,903.9 1189.4,905.2 1190.2,906.4 1191,907.7 1191.8,909 1192.5,910.3 1193.3,911.6 1194,912.9 1194.8,914.2 1195.5,915.5 1196.3,916.8 1197,918.1 1197.8,919.4 1198.5,920.7 1199.3,922 1200,923.3 1200.8,924.6 1201.5,925.9 1202.3,927.2 1203.1,928.5 1203.8,929.8 1204.6,931.1 1205.4,932.4 1206.1,933.6 1206.9,934.9 1207.7,936.2 1208.4,937.5 1209.2,938.8 1209.9,940.1 1210.7,941.4 1211.4,942.7 1212.2,944 1212.9,945.3 1213.7,946.6 1214.4,947.9 1215.1,949.3 1215.8,950.6 1216.5,951.9 1217.2,953.2 1217.9,954.6 1218.6,955.9 1219.3,957.2 1220,958.5 1220.7,959.9 1221.4,961.2 1222.1,962.6 1222.7,963.9 1223.4,965.2 1224.1,966.6 1224.7,967.9 1225.4,969.3 1226,970.7 1226.6,972 1227.3,973.4 1227.9,974.7 1228.5,976.1 1229.1,977.5 1229.7,978.9 1230.3,980.3 1230.8,981.6 1231.4,983 1232,984.4 1232.5,985.8 1233.1,987.2 1233.6,988.6 1234.2,990 1234.7,991.4 1235.3,992.8 1235.8,994.2 1236.3,995.6 1236.9,997 1237.4,998.4 1237.9,999.8 1238.5,1001.2 1239,1002.6 1239.5,1004 1240.1,1005.4 1240.6,1006.8 1241.1,1008.2 1241.6,1009.6 1242.2,1011.1 1242.7,1012.5 1243.2,1013.9 1243.7,1015.3 1244.2,1016.7 1244.7,1018.1 1245.2,1019.5 1245.7,1021 1246.2,1022.4 1246.6,1023.8 1247.1,1025.2 1247.5,1026.7 1248,1028.1 1248.4,1029.5 1248.8,1031 1249.3,1032.4 1249.7,1033.8 1250.1,1035.3 1250.5,1036.7 1250.9,1038.2 1251.3,1039.6 1251.7,1041.1 1252.1,1042.5 1252.5,1044 1252.9,1045.4 1253.2,1046.9 1253.6,1048.3 1254,1049.8 1254.3,1051.3 1254.6,1052.7 1254.9,1054.2 1255.3,1055.7 1255.6,1057.1 1255.9,1058.6 1256.2,1060.1 1256.5,1061.5 1256.8,1063 1257.1,1064.5 1257.3,1066 1257.6,1067.4 1257.9,1068.9 1258.2,1070.4 1258.4,1071.9 1258.7,1073.3 1259,1074.8 1259.2,1076.3 1259.5,1077.8 1259.7,1079.2 1260,1080.7 1260.2,1082.2 1260.5,1083.7 1260.7,1085.2 1261,1086.6 1261.2,1088.1 1261.5,1089.6 1261.7,1091.1 1261.9,1092.6 1262.1,1094.1 1262.4,1095.5 1262.6,1097 1262.8,1098.5 1263,1100"/>
<marker id="m4_1" markerUnits="userSpaceOnUse" markerWidth="60" markerHeight="60" viewBox="-30 -30 60 60" refX="0" refY="0" overflow="visible" fill="#ff00ff"><polygon points="0,12.7 14,-12.7 -14,-12.7"/></marker>
<polyline fill="none" stroke="none" marker-start="url(#m4_1)" marker-mid="url(#m4_1)" marker-end="url(#m4_1)" points="1276,1110 1276.2,1108.5 1276.3,1107 1276.5,1105.5 1276.6,1104 1276.8,1102.5 1277,1101.1 1277.1,1099.6 1277.3,1098.1 1277.5,1096.6 1277.7,1095.1 1277.9,1093.6 1278.1,1092.1 1278.2,1090.6 1278.4,1089.1 1278.6,1087.7 1278.8,1086.2 1279,1084.7 1279.2,1083.2 1279.5,1081.7 1279.7,1080.2 1279.9,1078.8 1280.1,1077.3 1280.3,1075.8 1280.5,1074.3 1280.8,1072.8 1281,1071.3 1281.3,1069.9 1281.5,1068.4 1281.7,1066.9 1282,1065.4 1282.3,1063.9 1282.5,1062.5 1282.8,1061 1283.1,1059.5 1283.4,1058.1 1283.7,1056.6 1284,1055.1 1284.4,1053.7 1284.7,1052.2 1285.1,1050.7 1285.4,1049.3 1285.8,1047.8 1286.1,1046.4 1286.5,1044.9 1286.9,1043.5 1287.2,1042 1287.6,1040.6 1288,1039.1 1288.3,1037.6 1288.7,1036.2 1289,1034.7 1289.4,1033.3 1289.7,1031.8 1290.1,1030.4 1290.5,1028.9 1290.8,1027.5 1291.2,1026 1291.6,1024.5 1292,1023.1 1292.4,1021.7 1292.8,1020.2 1293.2,1018.8 1293.6,1017.3 1294,1015.9 1294.5,1014.5 1295,1013 1295.4,1011.6 1295.9,1010.2 1296.4,1008.8 1297,1007.4 1297.5,1006 1298.1,1004.6 1298.6,1003.2 1299.2,1001.8 1299.8,1000.5 1300.5,999.1 1301.1,997.7 1301.7,996.4 1302.4,995 1303.1,993.7 1303.8,992.4 1304.5,991.1 1305.2,989.7 1306,988.4 1306.7,987.1 1307.5,985.9 1308.3,984.6 1309.1,983.3 1309.9,982.1 1310.8,980.9 1311.7,979.7 1312.6,978.5 1313.5,977.3 1314.5,976.2 1315.5,975 1316.5,973.9 1317.5,972.8 1318.6,971.7 1319.6,970.7 1320.7,969.6 1321.8,968.6 1322.8,967.5 1323.9,966.5 1325,965.5 1326.1,964.5 1327.3,963.5 1328.4,962.5 1329.5,961.5 1330.6,960.5 1331.7,959.5 1332.9,958.5 1334,957.5 1335.2,956.6 1336.3,955.6 1337.5,954.7 1338.7,953.8 1339.9,952.9 1341.1,951.9 1342.3,951 1343.5,950.1 1344.7,949.3 1345.9,948.4 1347.1,947.5 1348.3,946.7 1349.6,945.8 1350.8,944.9 1352.1,944.1 1353.3,943.3 1354.6,942.4 1355.8,941.6 1357.1,940.8 1358.3,940 1359.6,939.2 1360.9,938.4 1362.1,937.6 1363.4,936.8 1364.7,936 1365.9,935.2 1367.2,934.4 1368.5,933.6 1369.8,932.8 1371.1,932.1 1372.3,931.3 1373.6,930.5 1374.9,929.8 1376.2,929 1377.5,928.3 1378.8,927.5 1380.1,926.8 1381.5,926.1 1382.8,925.4 1384.1,924.7 1385.4,924 1386.7,923.3 1388.1,922.6 1389.4,921.9 1390.8,921.2 1392.1,920.6 1393.5,919.9 1394.8,919.3 1396.2,918.7 1397.6,918.1 1398.9,917.5 1400.3,916.9 1401.7,916.3 1403.1,915.7 1404.5,915.2 1405.9,914.6 1407.3,914.1 1408.7,913.5 1410.1,913 1411.5,912.5 1412.9,912 1414.3,911.5 1415.7,911 1417.1,910.5 1418.5,910 1420,909.5 1421.4,909 1422.8,908.5 1424.2,908.1 1425.7,907.6 1427.1,907.2 1428.5,906.7 1429.9,906.2 1431.4,905.8 1432.8,905.3 1434.2,904.9 1435.7,904.5 1437.1,904 1438.5,903.6 1440,903.1 1441.4,902.7 1442.8,902.3 1444.3,901.8 1445.7,901.4 1447.1,901 1448.6,900.5 1450,900.1 1451.4,899.7 1452.9,899.2 1454.3,898.8 1455.8,898.4 1457.2,898 1458.6,897.5 1460.1,897.1 1461.5,896.7 1463,896.3 1464.4,895.9 1465.9,895.5 1467.3,895.1 1468.7,894.7 1470.2,894.3 1471.6,893.9 1473.1,893.5 1474.5,893.1 1476,892.7 1477.4,892.3 1478.9,891.9 1480.3,891.5 1481.8,891.2 1483.2,890.8 1484.7,890.4 1486.1,890 1487.6,889.6 1489,889.3 1490.5,888.9 1491.9,888.5 1493.4,888.2 1494.8,887.8 1496.3,887.4 1497.8,887.1 1499.2,886.7 1500.7,886.3 1502.1,886 1503.6,885.6 1505,885.3 1506.5,884.9 1507.9,884.6 1509.4,884.2 1510.9,883.9 1512.3,883.5 1513.8,883.2 1515.2,882.8 1516.7,882.5 1518.2,882.2 1519.6,881.8 1521.1,881.5 1522.6,881.2 1524,880.8 1525.5,880.5 1526.9,880.2 1528.4,879.8 1529.9,879.5 1531.3,879.2 1532.8,878.8 1534.3,878.5 1535.7,878.2 1537.2,877.9 1538.6,877.5 1540.1,877.2 1541.6,876.9 1543,876.5 1544.5,876.2 1546,875.9 1547.4,875.6 1548.9,875.2 1550.4,874.9 1551.8,874.6 1553.3,874.3 1554.7,874 1556.2,873.6 1557.7,873.3 1559.1,873 1560.6,872.7 1562.1,872.4 1563.5,872 1565,871.7 1566.5,871.4 1567.9,871.1 1569.4,870.8 1570.9,870.5 1572.3,870.2 1573.8,869.9 1575.3,869.6 1576.7,869.3 1578.2,869 1579.7,868.7 1581.2,868.4 1582.6,868.1 1584.1,867.8 1585.6,867.5 1587,867.2 1588.5,866.9 1590,866.6 1591.5,866.3 1592.9,866.1 1594.4,865.8 1595.9,865.5 1597.3,865.2 1598.8,864.9 1600.3,864.7 1601.8,864.4 1603.2,864.1 1604.7,863.9 1606.2,863.6 1607.7,863.3 1609.2,863.1 1610.6,862.8 1612.1,862.5 1613.6,862.3 1615.1,862 1616.5,861.8 1618,861.5 1619.5,861.2 1621,861 1622.4,860.7 1623.9,860.5 1625.4,860.2 1626.9,860 1628.4,859.7 1629.8,859.4 1631.3,859.2 1632.8,858.9 1634.3,858.7 1635.7,858.4 1637.2,858.2 1638.7,857.9 1640.2,857.6 1641.7,857.4 1643.1,857.1 1644.6,856.9 1646.1,856.6 1647.6,856.4 1649,856.1 1650.5,855.9 1652,855.6 1653.5,855.4 1655,855.1 1656.4,854.9 1657.9,854.6 1659.4,854.4 1660.9,854.2 1662.4,853.9 1663.8,853.7 1665.3,853.4 1666.8,853.2 1668.3,852.9 1669.8,852.7 1671.2,852.5 1672.7,852.2 1674.2,852 1675.7,851.7 1677.2,851.5 1678.6,851.2 1680.1,851 1681.6,850.7 1683.1,850.5 1684.5,850.2 1686,849.9 1687.5,849.7 1689,849.4 1690.4,849.1 1691.9,848.9 1693.4,848.6 1694.9,848.3 1696.3,848.1 1697.8,847.8 1699.3,847.5 1700.8,847.2 1702.2,846.9 1703.7,846.7 1705.2,846.4 1706.7,846.1 1708.1,845.8 1709.6,845.5 1711.1,845.2 1712.5,844.9 1714,844.6 1715.5,844.3 1716.9,844 1718.4,843.7 1719.9,843.4 1721.4,843.1 1722.8,842.8 1724.3,842.5 1725.8,842.2 1727.2,841.9 1728.7,841.6 1730.2,841.3 1731.6,841 1733.1,840.6 1734.6,840.3 1736,840 1737.5,839.7 1739,839.4 1740.4,839.1 1741.9,838.8 1743.4,838.5 1744.8,838.2 1746.3,837.9 1747.8,837.6 1749.3,837.3 1750.7,837 1752.2,836.7 1753.7,836.4 1755.1,836.1 1756.6,835.8 1758.1,835.5 1759.5,835.3 1761,835 1762.5,834.7 1764,834.4 1765.4,834.1 1766.9,833.8 1768.4,833.4 1769.8,833.1 1771.3,832.8 1772.8,832.5 1774.2,832.2 1775.7,831.9 1777.2,831.6 1778.6,831.2 1780.1,830.9 1781.5,830.6 1783,830.2 1784.5,829.9 1785.9,829.5 1787.4,829.2 1788.8,828.8 1790.3,828.4 1791.7,828.1 1793.2,827.7 1794.7,827.3 1796.1,827 1797.6,826.6 1799,826.2 1800.5,825.8 1801.9,825.5 1803.4,825.1 1804.8,824.7 1806.3,824.3 1807.7,823.9 1809.1,823.5 1810.6,823 1812,822.6 1813.4,822.2 1814.9,821.7 1816.3,821.2 1817.7,820.7 1819.1,820.2 1820.5,819.7 1821.9,819.2 1823.3,818.7 1824.7,818.1 1826.1,817.5 1827.5,816.9 1828.8,816.3 1830.2,815.6 1831.5,814.9 1832.8,814.2 1834.2,813.5 1835.5,812.7 1836.7,812 1838,811.2 1839.3,810.4 1840.6,809.6 1841.8,808.8 1843,807.9 1844.3,807.1 1845.5,806.2 1846.7,805.4 1848,804.5 1849.2,803.6 1850.4,802.7 1851.6,801.8 1852.8,800.9 1853.9,800 1855.1,799 1856.3,798.1 1857.4,797.1 1858.5,796.1 1859.6,795.1 1860.8,794.1 1861.9,793.1 1863,792.1 1864,791 1865.1,790 1866.2,788.9 1867.3,787.9 1868.3,786.8 1869.4,785.8 1870.4,784.7 1871.5,783.6 1872.5,782.5 1873.6,781.5 1874.6,780.4 1875.7,779.3 1876.7,778.2 1877.7,777.1 1878.7,776 1879.7,774.9 1880.7,773.8 1881.7,772.7 1882.7,771.5 1883.7,770.4 1884.6,769.2 1885.6,768.1 1886.6,766.9 1887.5,765.8 1888.5,764.6 1889.4,763.5 1890.4,762.3 1891.3,761.2 1892.3,760 1893.2,758.8 1894.2,757.7 1895.1,756.5 1896.1,755.3 1897,754.2 1898,753 1898.9,751.9 1899.9,750.7 1900.8,749.5 1901.8,748.4 1902.7,747.2 1903.6,746 1904.6,744.9 1905.5,743.7 1906.4,742.5 1907.4,741.3 1908.3,740.1 1909.2,739 1910.2,737.8 1911.1,736.6 1912,735.4 1912.9,734.3 1913.9,733.1 1914.8,731.9 1915.8,730.8 1916.7,729.6 1917.6,728.4 1918.6,727.3 1919.6,726.1 1920.5,725 1921.5,723.8 1922.4,722.6 1923.4,721.5 1924.3,720.3 1925.3,719.2 1926.3,718 1927.2,716.9 1928.2,715.7 1929.1,714.6 1930.1,713.4 1931.1,712.3 1932,711.1 1933,710 1934,708.9 1935,707.7 1935.9,706.6 1936.9,705.4 1937.9,704.3 1938.9,703.2 1939.8,702 1940.8,700.9 1941.8,699.7 1942.8,698.6 1943.7,697.5 1944.7,696.3 1945.7,695.2 1946.7,694.1 1947.7,692.9 1948.6,691.8 1949.6,690.7 1950.6,689.5 1951.6,688.4 1952.6,687.3 1953.6,686.2 1954.6,685 1955.6,683.9 1956.6,682.8 1957.6,681.7 1958.6,680.6 1959.6,679.5 1960.6,678.4 1961.7,677.3 1962.7,676.2 1963.7,675.1 1964.7,674 1965.7,672.9 1966.8,671.8 1967.8,670.7 1968.8,669.6 1969.8,668.5 1970.8,667.4 1971.9,666.3 1972.9,665.2 1974,664.1 1975,663.1 1976.1,662 1977.1,661 1978.2,659.9 1979.3,658.9 1980.4,657.8 1981.5,656.8 1982.6,655.8 1983.7,654.9 1984.9,653.9 1986.1,653 1987.2,652 1988.4,651.1 1989.6,650.2 1990.8,649.3 1992.1,648.5 1993.3,647.6 1994.5,646.8 1995.8,645.9 1997,645.1 1998.3,644.3 1999.5,643.5 2000.8,642.7 2002.1,641.9 2003.4,641.1 2004.7,640.3 2005.9,639.6 2007.2,638.8 2008.5,638 2009.8,637.3 2011.1,636.5 2012.4,635.8 2013.7,635 2015,634.3 2016.3,633.6 2017.7,632.9 2019,632.1 2020.3,631.4 2021.6,630.8 2023,630.1 2024.3,629.4 2025.6,628.7 2027,628 2028.3,627.4 2029.7,626.7 2031,626 2032.4,625.4 2033.7,624.7 2035,624 2036.4,623.4 2037.7,622.7 2039,622 2040.4,621.3 2041.7,620.6 2043,619.9 2044.4,619.2 2045.7,618.6 2047,617.9 2048.4,617.2 2049.7,616.5 2051,615.8 2052.4,615.1 2053.7,614.4 2055,613.7 2056.4,613.1 2057.7,612.4 2059,611.7 2060.4,611 2061.7,610.3 2063,609.6 2064.4,608.9 2065.7,608.2 2067,607.5 2068.3,606.8 2069.7,606.1 2071,605.4 2072.3,604.7 2073.6,604 2075,603.3 2076.3,602.6 2077.6,601.9 2078.9,601.2 2080.2,600.5 2081.6,599.7 2082.9,599 2084.2,598.3 2085.5,597.6 2086.8,596.9 2088.2,596.2 2089.5,595.5 2090.8,594.8 2092.1,594 2093.4,593.3 2094.8,592.6 2096.1,591.9 2097.4,591.2 2098.7,590.5 2100.1,589.8 2101.4,589.1 2102.7,588.4 2104,587.7 2105.4,587 2106.7,586.3 2108,585.6 2109.3,584.9 2110.6,584.2 2112,583.4 2113.3,582.7 2114.6,582 2115.9,581.3 2117.2,580.6 2118.6,579.9 2119.9,579.2 2121.2,578.4 2122.5,577.7 2123.8,577 2125.1,576.3 2126.4,575.5 2127.8,574.8 2129.1,574.1 2130.4,573.4 2131.7,572.6 2133,571.9 2134.3,571.2 2135.6,570.4 2136.9,569.7 2138.2,568.9 2139.5,568.2 2140.8,567.4 2142.1,566.7 2143.4,565.9 2144.7,565.2 2146,564.4 2147.2,563.5 2148.4,562.6 2149.5,561.6 2150.7,560.7 2151.8,559.7 2153,558.8 2154.3,558 2155.6,557.3 2157,556.8 2158.5,556.5 2160,556.5 2161.5,556.5 2163,556.5 2164.5,556.5"/>
<marker id="m4" markerUnits="userSpaceOnUse" markerWidth="60" markerHeight="60" viewBox="-30 -30 60 60" refX="0" refY="0" overflow="visible" fill="#ff00ff"><polygon points="0,11.5 12.8,-11.5 -12.8,-11.5"/></marker>
<polyline fill="none" stroke="none" marker-start="url(#m4)" marker-mid="url(#m4)" marker-end="url(#m4)" points="1001,601.5 1001,618.4 1277,1171 1270,1200 1268,1215 1266,1255 1265.5,1346 1269.5,1346 2040.4,493.2"/>
</g>
<g id="F5">
<polyline fill="none" stroke="#008000" stroke-width="3.0" stroke-linejoin="round" points="1263,1223.8 1260,1262 1261.4,1445.5 1264,1180"/>
<marker id="m5_0" markerUnits="userSpaceOnUse" markerWidth="60" markerHeight="60" viewBox="-30 -30 60 60" refX="0" refY="0" overflow="visible" fill="#008000"><polygon points="0,-13.9 13.9,0 0,13.9 -13.9,0"/></marker>
<polyline fill="none" stroke="none" marker-start="url(#m5_0)" marker-mid="url(#m5_0)" marker-end="url(#m5_0)" points="940.5,583 940.6,584.5 940.7,586 940.8,587.5 941,589 941.1,590.5 941.2,592 941.4,593.5 941.5,595 941.6,596.5 941.8,597.9 941.9,599.4 942.1,600.9 942.2,602.4 942.4,603.9 942.5,605.4 942.7,606.9 942.9,608.4 943,609.9 943.2,611.4 943.4,612.9 943.6,614.4 943.8,615.8 944,617.3 944.2,618.8 944.4,620.3 944.6,621.8 944.8,623.3 945,624.8 945.2,626.2 945.4,627.7 945.7,629.2 945.9,630.7 946.2,632.2 946.4,633.7 946.7,635.1 946.9,636.6 947.2,638.1 947.5,639.6 947.8,641 948.1,642.5 948.4,644 948.7,645.4 949,646.9 949.4,648.4 949.7,649.8 950,651.3 950.4,652.8 950.7,654.2 951.1,655.7 951.4,657.1 951.8,658.6 952.1,660.1 952.5,661.5 952.8,663 953.2,664.4 953.5,665.9 953.9,667.3 954.3,668.8 954.7,670.2 955.2,671.7 955.6,673.1 956,674.5 956.5,675.9 957,677.4 957.5,678.8 958.1,680.2 958.7,681.6 959.3,682.9 960,684.3 960.7,685.6 961.4,686.9 962.2,688.2 963,689.4 963.8,690.7 964.6,692 965.4,693.2 966.3,694.5 967.1,695.7 968,696.9 968.8,698.2 969.6,699.4 970.5,700.7 971.3,701.9 972.1,703.2 973,704.4 973.9,705.6 974.7,706.8 975.6,708.1 976.5,709.3 977.4,710.5 978.3,711.7 979.2,712.9 980,714.1 980.9,715.3 981.8,716.5 982.7,717.8 983.6,719 984.4,720.2 985.3,721.4 986.2,722.6 987.1,723.8 988,725 988.9,726.3 989.7,727.5 990.6,728.7 991.5,729.9 992.4,731.1 993.2,732.4 994.1,733.6 994.9,734.9 995.7,736.1 996.5,737.4 997.3,738.7 998.1,739.9 998.8,741.2 999.6,742.5 1000.3,743.8 1001.1,745.1 1001.8,746.4 1002.6,747.7 1003.4,749 1004.2,750.3 1005,751.5 1005.8,752.8 1006.7,754 1007.6,755.2 1008.6,756.3 1009.6,757.5 1010.6,758.6 1011.6,759.7 1012.7,760.7 1013.8,761.8 1014.9,762.8 1016,763.8 1017.1,764.8 1018.2,765.8 1019.3,766.8 1020.4,767.8 1021.5,768.8 1022.6,769.8 1023.8,770.8 1024.9,771.9 1026,772.9 1027.1,773.9 1028.1,774.9 1029.2,776 1030.3,777 1031.5,778 1032.6,779 1033.7,780 1034.8,781 1035.9,782 1037,783 1038.1,784 1039.2,785 1040.4,786 1041.5,787 1042.6,788 1043.8,789 1044.9,789.9 1046.1,790.9 1047.2,791.8 1048.4,792.8 1049.6,793.7 1050.8,794.6 1052,795.5 1053.2,796.4 1054.4,797.4 1055.6,798.3 1056.8,799.2 1057.9,800.1 1059.1,801 1060.3,801.9 1061.5,802.9 1062.6,803.8 1063.8,804.8 1064.9,805.8 1066,806.8 1067.1,807.8 1068.2,808.9 1069.3,809.9 1070.3,811 1071.4,812 1072.5,813.1 1073.5,814.2 1074.6,815.2 1075.6,816.3 1076.7,817.4 1077.7,818.4 1078.8,819.5 1079.9,820.5 1081,821.5 1082.1,822.5 1083.2,823.5 1084.4,824.5 1085.5,825.4 1086.7,826.4 1087.9,827.3 1089.1,828.2 1090.3,829 1091.6,829.9 1092.8,830.8 1094,831.6 1095.3,832.4 1096.5,833.3 1097.8,834.1 1099.1,834.9 1100.3,835.7 1101.6,836.5 1102.9,837.3 1104.1,838.1 1105.4,838.9 1106.7,839.7 1108,840.5 1109.2,841.3 1110.5,842.1 1111.8,842.9 1113,843.7 1114.3,844.5 1115.6,845.3 1116.8,846.1 1118.1,846.9 1119.3,847.8 1120.6,848.6 1121.8,849.5 1123,850.4 1124.2,851.2 1125.4,852.1 1126.7,853 1127.9,853.9 1129.1,854.7 1130.3,855.6 1131.5,856.5 1132.7,857.4 1133.9,858.3 1135.2,859.2 1136.4,860.1 1137.6,861 1138.8,861.9 1140,862.8 1141.2,863.7 1142.3,864.6 1143.5,865.5 1144.7,866.4 1145.9,867.4 1147.1,868.3 1148.2,869.2 1149.4,870.2 1150.5,871.2 1151.7,872.1 1152.8,873.1 1154,874.1 1155.1,875.1 1156.2,876.1 1157.3,877.1 1158.4,878.1 1159.5,879.1 1160.6,880.1 1161.7,881.1 1162.8,882.2 1163.9,883.2 1165,884.2 1166.1,885.3 1167.2,886.3 1168.2,887.4 1169.3,888.4 1170.3,889.5 1171.4,890.6 1172.4,891.7 1173.4,892.8 1174.5,893.9 1175.5,895 1176.5,896.1 1177.5,897.2 1178.5,898.3 1179.5,899.5 1180.4,900.6 1181.4,901.8 1182.3,902.9 1183.3,904.1 1184.2,905.3 1185.1,906.5 1186,907.7 1186.9,908.9 1187.8,910.1 1188.7,911.3 1189.5,912.5 1190.4,913.8 1191.2,915 1192.1,916.2 1192.9,917.5 1193.8,918.7 1194.6,920 1195.4,921.2 1196.2,922.5 1197,923.8 1197.8,925 1198.6,926.3 1199.4,927.6 1200.3,928.8 1201.1,930.1 1201.9,931.4 1202.7,932.6 1203.5,933.9 1204.2,935.2 1205,936.4 1205.8,937.7 1206.6,939 1207.4,940.3 1208.2,941.6 1208.9,942.9 1209.7,944.2 1210.4,945.5 1211.2,946.7 1212,948 1212.7,949.3 1213.4,950.7 1214.2,952 1214.9,953.3 1215.6,954.6 1216.3,955.9 1217,957.2 1217.7,958.6 1218.4,959.9 1219.1,961.2 1219.8,962.5 1220.5,963.9 1221.3,965.2 1222,966.5 1222.7,967.8 1223.4,969.1 1224.1,970.5 1224.8,971.8 1225.5,973.1 1226.2,974.5 1226.9,975.8 1227.5,977.2 1228.2,978.5 1228.8,979.9 1229.4,981.2 1230,982.6 1230.5,984 1231,985.4 1231.5,986.8 1232,988.3 1232.4,989.7 1232.8,991.2 1233.2,992.6 1233.5,994.1 1233.8,995.5 1234.2,997 1234.5,998.5 1234.7,1000 1235,1001.4 1235.3,1002.9 1235.5,1004.4 1235.8,1005.9 1236,1007.3 1236.3,1008.8 1236.5,1010.3 1236.7,1011.8 1237,1013.3 1237.2,1014.8 1237.4,1016.2 1237.7,1017.7 1237.9,1019.2 1238.2,1020.7 1238.5,1022.2 1238.7,1023.6 1239,1025.1 1239.3,1026.6 1239.6,1028 1239.9,1029.5 1240.2,1031 1240.5,1032.5 1240.8,1033.9 1241.1,1035.4 1241.4,1036.9 1241.7,1038.3 1242,1039.8 1242.3,1041.3 1242.6,1042.7 1242.9,1044.2 1243.3,1045.7 1243.6,1047.1 1243.9,1048.6 1244.2,1050.1 1244.5,1051.5 1244.9,1053 1245.2,1054.5 1245.5,1055.9 1245.8,1057.4 1246.2,1058.9 1246.5,1060.3 1246.8,1061.8 1247.2,1063.2 1247.5,1064.7 1247.9,1066.2 1248.3,1067.6 1248.7,1069.1 1249,1070.5 1249.4,1072 1249.8,1073.4 1250.3,1074.8 1250.7,1076.3 1251.1,1077.7 1251.5,1079.2 1251.9,1080.6 1252.3,1082.1 1252.7,1083.5 1253.1,1085 1253.5,1086.4 1253.9,1087.9 1254.2,1089.3 1254.6,1090.8 1254.9,1092.2 1255.3,1093.7 1255.6,1095.2 1255.9,1096.6 1256.2,1098.1 1256.4,1099.6 1256.7,1101.1 1256.9,1102.5 1257.2,1104 1257.4,1105.5 1257.6,1107 1257.9,1108.5 1258.1,1110 1258.3,1111.4 1258.5,1112.9 1258.7,1114.4 1258.9,1115.9 1259.1,1117.4 1259.3,1118.9 1259.5,1120.4 1259.7,1121.8 1259.9,1123.3 1260,1124.8 1260.2,1126.3 1260.3,1127.8 1260.5,1129.3 1260.6,1130.8 1260.7,1132.3 1260.8,1133.8 1260.9,1135.3 1261,1136.8 1261,1138.3 1261.1,1139.8 1261.1,1141.3 1261.2,1142.8 1261.2,1144.3 1261.3,1145.8 1261.3,1147.3 1261.4,1148.8 1261.4,1150.3 1261.4,1151.8 1261.5,1153.3 1261.5,1154.8 1261.5,1156.3 1261.6,1157.8 1261.6,1159.3 1261.6,1160.8 1261.7,1162.3 1261.7,1163.8 1261.7,1165.3 1261.7,1166.8 1261.8,1168.3 1261.8,1169.8 1261.8,1171.3 1261.8,1172.8 1261.9,1174.3 1261.9,1175.8 1261.9,1177.3 1262,1178.8 1262,1180.3 1262,1181.8 1262.1,1183.3 1262.1,1184.8 1262.1,1186.3 1262.2,1187.8 1262.2,1189.3 1262.2,1190.8 1262.3,1192.3 1262.3,1193.8 1262.4,1195.3 1262.4,1196.8 1262.4,1198.3 1262.5,1199.8 1262.5,1201.3 1262.5,1202.8 1262.6,1204.3 1262.6,1205.8 1262.6,1207.3 1262.7,1208.8 1262.7,1210.3 1262.7,1211.8 1262.8,1213.3 1262.8,1214.8 1262.8,1216.3 1262.9,1217.8 1262.9,1219.3 1262.9,1220.8 1263,1222.3 1263,1223.8"/>
<marker id="m5_1" markerUnits="userSpaceOnUse" markerWidth="60" markerHeight="60" viewBox="-30 -30 60 60" refX="0" refY="0" overflow="visible" fill="#008000"><polygon points="0,-15 15,0 0,15 -15,0"/></marker>
<polyline fill="none" stroke="none" marker-start="url(#m5_1)" marker-mid="url(#m5_1)" marker-end="url(#m5_1)" points="1264,1180 1264,1178.5 1264,1177 1264,1175.5 1264,1174 1264,1172.5 1264.1,1171 1264.1,1169.5 1264.1,1168 1264.1,1166.5 1264.1,1165 1264.2,1163.5 1264.2,1162 1264.2,1160.5 1264.3,1159 1264.3,1157.5 1264.4,1156 1264.4,1154.5 1264.4,1153 1264.5,1151.5 1264.5,1150 1264.6,1148.5 1264.6,1147 1264.7,1145.5 1264.7,1144 1264.8,1142.5 1264.9,1141 1264.9,1139.5 1265,1138 1265,1136.5 1265.1,1135 1265.2,1133.5 1265.3,1132 1265.4,1130.5 1265.6,1129.1 1265.7,1127.6 1265.9,1126.1 1266.1,1124.6 1266.2,1123.1 1266.4,1121.6 1266.6,1120.1 1266.8,1118.6 1267,1117.1 1267.2,1115.7 1267.4,1114.2 1267.7,1112.7 1267.9,1111.2 1268.1,1109.7 1268.3,1108.2 1268.5,1106.8 1268.7,1105.3 1269,1103.8 1269.2,1102.3 1269.4,1100.8 1269.6,1099.3 1269.8,1097.8 1270,1096.4 1270.2,1094.9 1270.4,1093.4 1270.6,1091.9 1270.9,1090.4 1271.1,1088.9 1271.3,1087.5 1271.5,1086 1271.7,1084.5 1272,1083 1272.2,1081.5 1272.4,1080.1 1272.7,1078.6 1272.9,1077.1 1273.2,1075.6 1273.4,1074.1 1273.7,1072.7 1273.9,1071.2 1274.2,1069.7 1274.4,1068.2 1274.7,1066.7 1275,1065.3 1275.3,1063.8 1275.5,1062.3 1275.8,1060.9 1276.1,1059.4 1276.4,1057.9 1276.7,1056.4 1277,1055 1277.3,1053.5 1277.6,1052 1277.9,1050.6 1278.2,1049.1 1278.6,1047.6 1278.9,1046.2 1279.2,1044.7 1279.6,1043.3 1279.9,1041.8 1280.3,1040.3 1280.6,1038.9 1281,1037.4 1281.4,1036 1281.7,1034.5 1282.1,1033.1 1282.5,1031.6 1282.9,1030.2 1283.4,1028.7 1283.8,1027.3 1284.2,1025.9 1284.7,1024.4 1285.1,1023 1285.6,1021.6 1286.1,1020.2 1286.6,1018.8 1287.1,1017.3 1287.6,1015.9 1288.1,1014.5 1288.6,1013.1 1289.2,1011.7 1289.7,1010.3 1290.3,1008.9 1290.9,1007.6 1291.4,1006.2 1292,1004.8 1292.6,1003.4 1293.2,1002 1293.8,1000.7 1294.5,999.3 1295.1,998 1295.8,996.6 1296.4,995.3 1297.1,993.9 1297.8,992.6 1298.5,991.3 1299.2,990 1300,988.7 1300.7,987.4 1301.5,986.1 1302.2,984.8 1303,983.5 1303.8,982.2 1304.6,980.9 1305.4,979.7 1306.2,978.4 1307,977.1 1307.8,975.9 1308.6,974.6 1309.5,973.4 1310.3,972.1 1311.1,970.9 1312,969.6 1312.8,968.4 1313.7,967.2 1314.6,966 1315.4,964.7 1316.3,963.5 1317.2,962.3 1318.1,961.1 1319,959.9 1320,958.8 1320.9,957.6 1321.8,956.4 1322.8,955.3 1323.7,954.1 1324.7,953 1325.7,951.8 1326.7,950.7 1327.7,949.6 1328.7,948.5 1329.7,947.4 1330.7,946.3 1331.8,945.2 1332.8,944.1 1333.9,943.1 1334.9,942 1336,941 1337.1,939.9 1338.2,938.9 1339.3,937.9 1340.4,936.9 1341.5,935.9 1342.6,934.9 1343.8,933.9 1344.9,932.9 1346,931.9 1347.2,930.9 1348.3,930 1349.4,929 1350.6,928 1351.7,927.1 1352.9,926.1 1354,925.1 1355.2,924.2 1356.3,923.2 1357.5,922.3 1358.7,921.3 1359.8,920.4 1361,919.4 1362.2,918.5 1363.3,917.6 1364.5,916.7 1365.7,915.7 1366.9,914.8 1368.1,913.9 1369.3,913.1 1370.6,912.2 1371.8,911.3 1373,910.5 1374.3,909.7 1375.5,908.9 1376.8,908.1 1378.1,907.3 1379.4,906.5 1380.7,905.7 1381.9,905 1383.2,904.2 1384.6,903.5 1385.9,902.7 1387.2,902 1388.5,901.3 1389.8,900.6 1391.2,899.9 1392.5,899.2 1393.8,898.5 1395.2,897.9 1396.5,897.2 1397.8,896.5 1399.2,895.9 1400.5,895.2 1401.9,894.6 1403.3,894 1404.6,893.3 1406,892.7 1407.4,892.1 1408.7,891.5 1410.1,890.9 1411.5,890.3 1412.9,889.7 1414.3,889.2 1415.6,888.6 1417,888 1418.4,887.4 1419.8,886.9 1421.2,886.3 1422.6,885.8 1424,885.2 1425.4,884.7 1426.8,884.1 1428.2,883.6 1429.6,883 1431,882.5 1432.4,882 1433.8,881.4 1435.2,880.9 1436.6,880.4 1438,879.9 1439.4,879.3 1440.8,878.8 1442.2,878.3 1443.6,877.8 1445,877.3 1446.4,876.8 1447.9,876.3 1449.3,875.8 1450.7,875.3 1452.1,874.7 1453.5,874.2 1454.9,873.7 1456.3,873.2 1457.7,872.6 1459.1,872.1 1460.5,871.6 1461.9,871.1 1463.3,870.6 1464.7,870 1466.1,869.5 1467.6,869 1469,868.6 1470.4,868.1 1471.8,867.6 1473.2,867.1 1474.7,866.7 1476.1,866.3 1477.6,865.8 1479,865.4 1480.4,865 1481.9,864.7 1483.3,864.3 1484.8,863.9 1486.3,863.5 1487.7,863.2 1489.2,862.8 1490.6,862.4 1492.1,862.1 1493.5,861.7 1495,861.3 1496.4,861 1497.9,860.6 1499.3,860.2 1500.8,859.8 1502.2,859.4 1503.7,859 1505.1,858.6 1506.5,858.2 1508,857.7 1509.4,857.3 1510.9,856.9 1512.3,856.5 1513.8,856.1 1515.2,855.7 1516.6,855.3 1518.1,854.8 1519.5,854.4 1520.9,854 1522.4,853.6 1523.8,853.1 1525.3,852.7 1526.7,852.3 1528.1,851.8 1529.6,851.4 1531,851 1532.4,850.5 1533.9,850.1 1535.3,849.6 1536.7,849.2 1538.2,848.8 1539.6,848.3 1541,847.9 1542.5,847.4 1543.9,847 1545.3,846.5 1546.7,846 1548.2,845.6 1549.6,845.1 1551,844.7 1552.5,844.2 1553.9,843.7 1555.3,843.3 1556.7,842.8 1558.2,842.3 1559.6,841.9 1561,841.4 1562.4,840.9 1563.9,840.5 1565.3,840 1566.7,839.5 1568.1,839 1569.5,838.6 1571,838.1 1572.4,837.6 1573.8,837.1 1575.2,836.6 1576.6,836.1 1578,835.6 1579.5,835.1 1580.9,834.6 1582.3,834.1 1583.7,833.6 1585.1,833.1 1586.5,832.6 1587.9,832.1 1589.3,831.6 1590.7,831 1592.1,830.5 1593.5,830 1594.9,829.5 1596.3,828.9 1597.7,828.4 1599.1,827.8 1600.5,827.3 1601.9,826.7 1603.3,826.2 1604.7,825.6 1606.1,825 1607.5,824.5 1608.9,823.9 1610.2,823.3 1611.6,822.7 1613,822.1 1614.4,821.5 1615.7,820.9 1617.1,820.3 1618.5,819.7 1619.9,819.1 1621.2,818.5 1622.6,817.9 1624,817.2 1625.3,816.6 1626.7,816 1628,815.4 1629.4,814.7 1630.8,814.1 1632.1,813.5 1633.5,812.8 1634.8,812.2 1636.2,811.5 1637.6,810.9 1638.9,810.3 1640.3,809.6 1641.6,809 1643,808.3 1644.3,807.7 1645.7,807 1647,806.4 1648.4,805.8 1649.7,805.1 1651.1,804.5 1652.5,803.8 1653.8,803.2 1655.2,802.6 1656.5,801.9 1657.9,801.3 1659.2,800.6 1660.6,800 1661.9,799.3 1663.3,798.7 1664.6,798 1666,797.4 1667.3,796.7 1668.7,796.1 1670,795.4 1671.4,794.8 1672.7,794.1 1674.1,793.4 1675.4,792.8 1676.8,792.1 1678.1,791.5 1679.5,790.8 1680.8,790.1 1682.1,789.4 1683.5,788.8 1684.8,788.1 1686.1,787.4 1687.5,786.7 1688.8,786 1690.1,785.3 1691.5,784.6 1692.8,783.9 1694.1,783.2 1695.4,782.5 1696.7,781.8 1698.1,781.1 1699.4,780.3 1700.7,779.6 1702,778.9 1703.3,778.1 1704.6,777.4 1705.9,776.6 1707.2,775.9 1708.5,775.1 1709.8,774.3 1711.1,773.6 1712.3,772.8 1713.6,772 1714.9,771.2 1716.2,770.4 1717.4,769.6 1718.7,768.8 1720,768 1721.2,767.2 1722.5,766.4 1723.8,765.6 1725,764.8 1726.3,764 1727.6,763.2 1728.8,762.4 1730.1,761.6 1731.3,760.8 1732.6,760 1733.9,759.2 1735.1,758.3 1736.4,757.5 1737.7,756.7 1738.9,755.9 1740.2,755.1 1741.5,754.3 1742.7,753.5 1744,752.7 1745.3,751.9 1746.5,751.1 1747.8,750.3 1749.1,749.6 1750.4,748.8 1751.7,748 1752.9,747.2 1754.2,746.5 1755.5,745.7 1756.8,744.9 1758.1,744.2 1759.4,743.4 1760.7,742.7 1762,741.9 1763.3,741.1 1764.6,740.4 1765.9,739.6 1767.1,738.8 1768.4,738.1 1769.7,737.3 1771,736.5 1772.3,735.7 1773.5,734.9 1774.8,734.1 1776.1,733.3 1777.3,732.5 1778.6,731.7 1779.9,730.9 1781.1,730.1 1782.4,729.3 1783.6,728.5 1784.9,727.6 1786.1,726.8 1787.4,726 1788.6,725.1 1789.9,724.3 1791.1,723.5 1792.3,722.6 1793.6,721.7 1794.8,720.9 1796,720 1797.2,719.1 1798.4,718.2 1799.6,717.3 1800.8,716.4 1802,715.5 1803.2,714.5 1804.3,713.6 1805.5,712.6 1806.6,711.6 1807.8,710.7 1808.9,709.7 1810,708.7 1811.2,707.7 1812.3,706.7 1813.4,705.7 1814.5,704.7 1815.6,703.7 1816.7,702.7 1817.8,701.7 1818.9,700.6 1820,699.6 1821.1,698.6 1822.2,697.6 1823.3,696.5 1824.3,695.5 1825.4,694.4 1826.5,693.4 1827.5,692.3 1828.6,691.2 1829.6,690.2 1830.7,689.1 1831.7,688 1832.8,686.9 1833.8,685.9 1834.8,684.8 1835.9,683.7 1836.9,682.6 1837.9,681.5 1838.9,680.4 1840,679.3 1841,678.2 1842,677.1 1843,676 1844,674.9 1845,673.7 1846,672.6 1847,671.5 1848,670.4 1849,669.2 1849.9,668.1 1850.9,667 1851.9,665.8 1852.9,664.7 1853.9,663.6 1854.8,662.4 1855.8,661.3 1856.7,660.1 1857.7,659 1858.7,657.8 1859.6,656.6 1860.5,655.5 1861.5,654.3 1862.4,653.1 1863.3,651.9 1864.3,650.8 1865.2,649.6 1866.1,648.4 1867,647.2 1867.9,646 1868.8,644.8 1869.7,643.6 1870.6,642.4 1871.5,641.2 1872.3,640 1873.2,638.7 1874.1,637.5 1875,636.3 1875.8,635.1 1876.7,633.9 1877.6,632.6 1878.4,631.4 1879.3,630.2 1880.2,629 1881,627.7 1881.9,626.5 1882.7,625.3 1883.6,624.1 1884.5,622.8 1885.3,621.6 1886.2,620.4 1887,619.1 1887.9,617.9 1888.7,616.7 1889.6,615.4 1890.4,614.2 1891.3,612.9 1892.1,611.7 1892.9,610.4 1893.8,609.2 1894.6,608 1895.5,606.7 1896.3,605.5 1897.1,604.2 1898,603 1898.8,601.8 1899.7,600.5 1900.5,599.3 1901.4,598.1 1902.3,596.8 1903.1,595.6 1904,594.4 1904.9,593.2 1905.8,592 1906.6,590.8 1907.5,589.5 1908.4,588.3 1909.3,587.1 1910.2,585.9 1911.1,584.7 1912,583.5 1912.9,582.3 1913.8,581.1 1914.7,579.9 1915.6,578.8 1916.5,577.6 1917.5,576.4 1918.4,575.2 1919.3,574 1920.3,572.9 1921.2,571.7 1922.1,570.5 1923.1,569.3 1924,568.2 1925,567 1925.9,565.9 1926.9,564.7 1927.9,563.6 1928.8,562.4 1929.8,561.3 1930.8,560.2 1931.8,559 1932.8,557.9 1933.7,556.8 1934.7,555.6 1935.7,554.5 1936.7,553.4 1937.7,552.3 1938.8,551.2 1939.8,550.1 1940.8,549 1941.8,547.9 1942.8,546.8 1943.9,545.7 1944.9,544.6 1945.9,543.5 1947,542.4 1948,541.4 1949,540.3 1950.1,539.2 1951.1,538.1 1952.2,537 1953.2,536 1954.3,534.9 1955.3,533.8 1956.4,532.8 1957.5,531.7 1958.5,530.7 1959.6,529.7 1960.7,528.6 1961.8,527.6 1962.9,526.6 1964,525.6 1965.1,524.6 1966.3,523.6 1967.4,522.6 1968.6,521.7 1969.7,520.7 1970.9,519.8 1972.1,518.9 1973.3,518 1974.5,517 1975.7,516.1 1976.9,515.2 1978.1,514.4 1979.3,513.5 1980.5,512.6 1981.7,511.7 1983,510.9 1984.2,510 1985.4,509.2 1986.7,508.4 1987.9,507.5 1989.2,506.7 1990.5,505.9 1991.7,505.1 1993,504.3 1994.2,503.5 1995.5,502.7 1996.8,501.9 1998.1,501.1 1999.4,500.4 2000.7,499.6 2002,498.8 2003.3,498.1 2004.6,497.4 2005.9,496.7 2007.2,495.9 2008.5,495.2 2009.9,494.6 2011.2,493.9 2012.5,493.2 2013.9,492.5 2015.2,491.9 2016.6,491.2 2017.9,490.6 2019.3,490 2020.7,489.3 2022,488.7 2023.4,488.1 2024.8,487.5 2026.2,487 2027.6,486.4 2028.9,485.8 2030.3,485.3 2031.7,484.7 2033.1,484.2 2034.5,483.7 2036,483.1 2037.4,482.6 2038.8,482.1 2040.2,481.6 2041.6,481.2 2043,480.7 2044.5,480.2 2045.9,479.8 2047.3,479.3 2048.8,478.9 2050.2,478.4 2051.6,478 2053.1,477.6 2054.5,477.2 2056,476.8 2057.4,476.4 2058.9,476 2060.3,475.7 2061.8,475.3 2063.2,474.9 2064.7,474.6 2066.1,474.2 2067.6,473.9 2069.1,473.6 2070.5,473.3 2072,472.9 2073.5,472.6 2074.9,472.3 2076.4,472 2077.9,471.7 2079.3,471.4 2080.8,471.2 2082.3,470.9 2083.8,470.6 2085.2,470.3 2086.7,470.1 2088.2,469.8 2089.7,469.5 2091.1,469.3 2092.6,469 2094.1,468.8 2095.6,468.6 2097.1,468.3 2098.5,468.1 2100,467.9 2101.5,467.7 2103,467.5"/>
<marker id="m5" markerUnits="userSpaceOnUse" markerWidth="60" markerHeight="60" viewBox="-30 -30 60 60" refX="0" refY="0" overflow="visible" fill="#008000"><polygon points="0,-13.3 13.3,0 0,13.3 -13.3,0"/></marker>
<polyline fill="none" stroke="none" marker-start="url(#m5)" marker-mid="url(#m5)" marker-end="url(#m5)" points="1260,1262 1261.4,1445.5"/>
</g>
<g id="Substrate">
<polyline fill="none" stroke="#00008b" stroke-width="4.0" stroke-linejoin="round" points="1044.6,945 1045.6,987 1045.6,1018 1054.6,1025 1045.6,1116 1061.4,918"/>
<marker id="m6_0" markerUnits="userSpaceOnUse" markerWidth="60" markerHeight="60" viewBox="-30 -30 60 60" refX="0" refY="0" overflow="visible" fill="#00008b"><polygon points="-21.5,0 0,-13.8 0,13.8"/></marker>
<polyline fill="none" stroke="none" marker-start="url(#m6_0)" marker-mid="url(#m6_0)" marker-end="url(#m6_0)" points="419.4,237.5 420.8,238 422.2,238.6 423.6,239.1 425,239.7 426.4,240.3 427.8,240.8 429.2,241.4 430.6,241.9 432,242.5 433.4,243 434.7,243.6 436.1,244.1 437.5,244.7 438.9,245.2 440.3,245.8 441.7,246.4 443.1,246.9 444.5,247.5 445.9,248 447.3,248.6 448.7,249.2 450.1,249.7 451.5,250.3 452.8,250.9 454.2,251.4 455.6,252 457,252.5 458.4,253.1 459.8,253.7 461.2,254.2 462.6,254.8 464,255.4 465.4,256 466.7,256.5 468.1,257.1 469.5,257.7 470.9,258.2 472.3,258.8 473.7,259.4 475.1,260 476.4,260.5 477.8,261.1 479.2,261.7 480.6,262.3 482,262.8 483.4,263.4 484.8,264 486.1,264.6 487.5,265.2 488.9,265.7 490.3,266.3 491.7,266.9 493,267.5 494.4,268.1 495.8,268.7 497.2,269.3 498.6,269.9 499.9,270.5 501.3,271.1 502.7,271.7 504.1,272.3 505.4,272.9 506.8,273.5 508.2,274 509.6,274.6 511,275.2 512.3,275.8 513.7,276.4 515.1,277 516.5,277.6 517.9,278.2 519.2,278.8 520.6,279.4 522,280 523.4,280.5 524.8,281.1 526.1,281.7 527.5,282.3 528.9,282.9 530.3,283.4 531.7,284 533.1,284.6 534.5,285.1 535.9,285.7 537.3,286.2 538.7,286.8 540,287.4 541.4,287.9 542.8,288.5 544.2,289 545.6,289.6 547,290.1 548.4,290.6 549.8,291.2 551.2,291.7 552.6,292.3 554,292.8 555.4,293.4 556.8,293.9 558.2,294.5 559.6,295 561,295.6 562.4,296.1 563.8,296.7 565.2,297.2 566.6,297.8 568,298.3 569.4,298.9 570.8,299.5 572.2,300 573.5,300.6 574.9,301.2 576.3,301.7 577.7,302.3 579.1,302.9 580.5,303.5 581.8,304.1 583.2,304.7 584.6,305.3 586,305.9 587.3,306.5 588.7,307.1 590.1,307.7 591.5,308.3 592.8,308.9 594.2,309.5 595.6,310.1 596.9,310.7 598.3,311.3 599.7,312 601,312.6 602.4,313.2 603.8,313.8 605.1,314.5 606.5,315.1 607.9,315.7 609.2,316.3 610.6,317 611.9,317.6 613.3,318.3 614.7,318.9 616,319.5 617.4,320.2 618.7,320.8 620.1,321.5 621.4,322.1 622.8,322.8 624.1,323.4 625.5,324.1 626.8,324.7 628.2,325.4 629.5,326.1 630.9,326.7 632.2,327.4 633.6,328.1 634.9,328.7 636.2,329.4 637.6,330.1 638.9,330.8 640.2,331.5 641.6,332.2 642.9,332.9 644.2,333.5 645.6,334.2 646.9,334.9 648.2,335.6 649.6,336.3 650.9,337 652.2,337.8 653.5,338.5 654.8,339.2 656.2,339.9 657.5,340.6 658.8,341.3 660.1,342 661.4,342.7 662.8,343.5 664.1,344.2 665.4,344.9 666.7,345.6 668,346.3 669.3,347.1 670.7,347.8 672,348.5 673.3,349.2 674.6,349.9 675.9,350.7 677.2,351.4 678.6,352.1 679.9,352.8 681.2,353.6 682.5,354.3 683.8,355 685.1,355.7 686.4,356.4 687.8,357.2 689.1,357.9 690.4,358.6 691.7,359.3 693,360.1 694.3,360.8 695.6,361.5 696.9,362.3 698.3,363 699.6,363.7 700.9,364.4 702.2,365.2 703.5,365.9 704.8,366.7 706.1,367.4 707.4,368.1 708.7,368.9 710,369.6 711.3,370.3 712.6,371.1 713.9,371.8 715.2,372.6 716.5,373.3 717.8,374.1 719.1,374.8 720.4,375.6 721.7,376.3 723,377.1 724.3,377.9 725.6,378.6 726.9,379.4 728.2,380.1 729.5,380.9 730.8,381.7 732.1,382.4 733.4,383.2 734.7,384 735.9,384.7 737.2,385.5 738.5,386.3 739.8,387.1 741.1,387.8 742.4,388.6 743.6,389.4 744.9,390.2 746.2,391 747.5,391.8 748.8,392.5 750,393.3 751.3,394.1 752.6,394.9 753.9,395.7 755.1,396.5 756.4,397.3 757.7,398.1 759,398.9 760.2,399.7 761.5,400.5 762.8,401.3 764,402.1 765.3,402.9 766.6,403.7 767.8,404.5 769.1,405.3 770.3,406.1 771.6,407 772.9,407.8 774.1,408.6 775.4,409.4 776.6,410.3 777.9,411.1 779.1,411.9 780.4,412.7 781.6,413.6 782.9,414.4 784.1,415.3 785.3,416.1 786.6,416.9 787.8,417.8 789.1,418.6 790.3,419.5 791.5,420.3 792.8,421.2 794,422.1 795.2,422.9 796.5,423.8 797.7,424.6 798.9,425.5 800.1,426.4 801.4,427.2 802.6,428.1 803.8,429 805,429.8 806.2,430.7 807.5,431.6 808.7,432.5 809.9,433.4 811.1,434.2 812.3,435.1 813.5,436 814.8,436.9 816,437.8 817.2,438.7 818.4,439.6 819.6,440.4 820.8,441.3 822,442.2 823.2,443.1 824.4,444 825.6,444.9 826.8,445.8 828,446.7 829.2,447.6 830.4,448.5 831.6,449.4 832.8,450.3 834,451.2 835.2,452.1 836.4,453 837.6,453.9 838.8,454.8 840,455.7 841.2,456.6 842.4,457.5 843.6,458.4 844.8,459.3 846,460.2 847.2,461.1 848.4,462 849.6,462.9 850.8,463.8 852,464.7 853.2,465.7 854.4,466.6 855.6,467.5 856.8,468.4 857.9,469.3 859.1,470.3 860.3,471.2 861.5,472.1 862.6,473.1 863.8,474 865,474.9 866.1,475.9 867.3,476.8 868.5,477.8 869.6,478.8 870.8,479.7 871.9,480.7 873.1,481.7 874.2,482.6 875.3,483.6 876.5,484.6 877.6,485.6 878.7,486.6 879.8,487.6 880.9,488.6 882,489.7 883.1,490.7 884.2,491.7 885.3,492.8 886.3,493.8 887.4,494.9 888.4,496 889.5,497 890.5,498.1 891.6,499.2 892.6,500.3 893.6,501.4 894.7,502.5 895.7,503.5 896.7,504.6 897.8,505.7 898.8,506.8 899.8,507.9 900.8,509 901.8,510.1 902.9,511.2 903.9,512.3 904.9,513.4 905.9,514.5 907,515.6 908,516.7 909,517.8 910.1,518.9 911.1,520 912.1,521.1 913.2,522.1 914.2,523.2 915.2,524.3 916.2,525.4 917.3,526.5 918.3,527.6 919.3,528.7 920.3,529.8 921.3,531 922.3,532.1 923.3,533.2 924.3,534.3 925.3,535.4 926.3,536.6 927.3,537.7 928.2,538.9 929.2,540 930.1,541.2 931.1,542.3 932,543.5 933,544.7 933.9,545.9 934.8,547.1 935.7,548.3 936.6,549.5 937.5,550.7 938.4,551.9 939.3,553.1 940.2,554.3 941,555.5 941.9,556.7 942.8,557.9 943.7,559.2 944.5,560.4 945.4,561.6 946.3,562.8 947.2,564 948,565.3 948.9,566.5 949.8,567.7 950.7,568.9 951.5,570.1 952.4,571.3 953.3,572.6 954.2,573.8 955,575 955.9,576.2 956.8,577.4 957.7,578.7 958.5,579.9 959.4,581.1 960.3,582.3 961.1,583.6 962,584.8 962.8,586 963.7,587.3 964.5,588.5 965.4,589.8 966.2,591 967,592.3 967.8,593.5 968.6,594.8 969.5,596 970.3,597.3 971.1,598.6 971.9,599.9 972.6,601.1 973.4,602.4 974.2,603.7 975,605 975.8,606.3 976.5,607.5 977.3,608.8 978.1,610.1 978.8,611.4 979.6,612.7 980.3,614 981,615.3 981.8,616.7 982.5,618 983.2,619.3 983.9,620.6 984.6,621.9 985.3,623.3 986,624.6 986.7,625.9 987.4,627.2 988.1,628.6 988.8,629.9 989.4,631.3 990.1,632.6 990.8,634 991.4,635.3 992.1,636.7 992.7,638 993.4,639.4 994,640.7 994.6,642.1 995.2,643.5 995.8,644.8 996.4,646.2 997,647.6 997.6,649 998.2,650.4 998.7,651.8 999.3,653.2 999.8,654.6 1000.4,655.9 1000.9,657.3 1001.5,658.7 1002,660.1 1002.6,661.5 1003.1,662.9 1003.6,664.3 1004.2,665.8 1004.7,667.2 1005.2,668.6 1005.7,670 1006.3,671.4 1006.8,672.8 1007.3,674.2 1007.8,675.6 1008.3,677 1008.8,678.4 1009.3,679.8 1009.8,681.3 1010.3,682.7 1010.8,684.1 1011.3,685.5 1011.8,686.9 1012.3,688.3 1012.7,689.8 1013.2,691.2 1013.7,692.6 1014.1,694.1 1014.6,695.5 1015.1,696.9 1015.5,698.3 1016,699.8 1016.4,701.2 1016.8,702.6 1017.3,704.1 1017.7,705.5 1018.1,706.9 1018.6,708.4 1019,709.8 1019.4,711.3 1019.8,712.7 1020.2,714.2 1020.6,715.6 1021,717 1021.4,718.5 1021.8,719.9 1022.2,721.4 1022.6,722.8 1022.9,724.3 1023.3,725.8 1023.7,727.2 1024,728.7 1024.4,730.1 1024.7,731.6 1025.1,733 1025.4,734.5 1025.8,736 1026.1,737.4 1026.5,738.9 1026.8,740.3 1027.2,741.8 1027.6,743.3 1027.9,744.7 1028.3,746.2 1028.7,747.6 1029.1,749.1 1029.4,750.5 1029.8,752 1030.2,753.4 1030.6,754.9 1030.9,756.3 1031.3,757.8 1031.7,759.2 1032.1,760.7 1032.4,762.1 1032.8,763.6 1033.1,765.1 1033.5,766.5 1033.8,768 1034.1,769.5 1034.4,770.9 1034.8,772.4 1035.1,773.9 1035.4,775.3 1035.7,776.8 1036,778.3 1036.3,779.7 1036.6,781.2 1036.9,782.7 1037.2,784.1 1037.5,785.6 1037.7,787.1 1038,788.6 1038.3,790 1038.5,791.5 1038.8,793"/>
<marker id="m6_1" markerUnits="userSpaceOnUse" markerWidth="60" markerHeight="60" viewBox="-30 -30 60 60" refX="0" refY="0" overflow="visible" fill="#00008b"><polygon points="-21.5,0 0,-13.8 0,13.8"/></marker>
<polyline fill="none" stroke="none" marker-start="url(#m6_1)" marker-mid="url(#m6_1)" marker-end="url(#m6_1)" points="1090,787 1090.6,785.6 1091.3,784.3 1091.9,782.9 1092.6,781.6 1093.2,780.2 1093.9,778.9 1094.5,777.5 1095.2,776.2 1095.9,774.9 1096.6,773.5 1097.2,772.2 1097.9,770.8 1098.6,769.5 1099.3,768.2 1100,766.9 1100.7,765.5 1101.4,764.2 1102.1,762.9 1102.9,761.6 1103.6,760.3 1104.3,759 1105,757.6 1105.8,756.3 1106.5,755 1107.3,753.7 1108,752.4 1108.8,751.1 1109.5,749.8 1110.3,748.6 1111.1,747.3 1111.8,746 1112.6,744.7 1113.4,743.4 1114.1,742.1 1114.9,740.8 1115.7,739.5 1116.4,738.3 1117.2,737 1118,735.7 1118.7,734.4 1119.5,733.1 1120.3,731.8 1121,730.5 1121.8,729.2 1122.5,727.9 1123.3,726.6 1124,725.3 1124.8,724 1125.6,722.8 1126.4,721.5 1127.2,720.2 1128,718.9 1128.8,717.7 1129.6,716.4 1130.5,715.2 1131.3,714 1132.2,712.7 1133.1,711.5 1134,710.3 1134.9,709.1 1135.8,708 1136.8,706.8 1137.7,705.7 1138.7,704.5 1139.7,703.4 1140.7,702.3 1141.8,701.2 1142.8,700.1 1143.9,699.1 1144.9,698 1146,697 1147.1,695.9 1148.1,694.9 1149.2,693.8 1150.3,692.8 1151.4,691.8 1152.5,690.8 1153.7,689.8 1154.8,688.8 1155.9,687.8 1157,686.8 1158.2,685.9 1159.3,684.9 1160.5,683.9 1161.6,683 1162.8,682 1164,681.1 1165.1,680.2 1166.3,679.2 1167.5,678.3 1168.7,677.4 1169.9,676.5 1171.1,675.6 1172.3,674.8 1173.5,673.9 1174.8,673 1176,672.1 1177.2,671.3 1178.5,670.4 1179.7,669.6 1180.9,668.7 1182.2,667.9 1183.4,667.1 1184.7,666.2 1185.9,665.4 1187.2,664.6 1188.4,663.8 1189.7,663 1191,662.1 1192.2,661.4 1193.5,660.6 1194.8,659.8 1196.1,659 1197.3,658.2 1198.6,657.5 1199.9,656.7 1201.2,655.9 1202.5,655.2 1203.8,654.4 1205.1,653.7 1206.4,653 1207.7,652.2 1209.1,651.5 1210.4,650.8 1211.7,650.1 1213,649.4 1214.3,648.7 1215.7,648 1217,647.3 1218.3,646.6 1219.7,645.9 1221,645.3 1222.4,644.6 1223.7,643.9 1225,643.3 1226.4,642.6 1227.7,641.9 1229.1,641.3 1230.4,640.7 1231.8,640 1233.2,639.4 1234.5,638.7 1235.9,638.1 1237.2,637.5 1238.6,636.8 1240,636.2 1241.3,635.6 1242.7,635 1244.1,634.3 1245.4,633.7 1246.8,633.1 1248.2,632.5 1249.5,631.9 1250.9,631.3 1252.3,630.7 1253.7,630.1 1255,629.6 1256.4,629 1257.8,628.4 1259.2,627.8 1260.6,627.3 1262,626.7 1263.4,626.1 1264.8,625.6 1266.2,625 1267.6,624.5 1269,623.9 1270.4,623.4 1271.8,622.9 1273.2,622.3 1274.6,621.8 1276,621.3 1277.4,620.8 1278.8,620.3 1280.2,619.7 1281.6,619.2 1283,618.7 1284.4,618.2 1285.8,617.7 1287.2,617.2 1288.7,616.7 1290.1,616.2 1291.5,615.7 1292.9,615.2 1294.3,614.8 1295.8,614.3 1297.2,613.8 1298.6,613.3 1300,612.8 1301.4,612.4 1302.9,611.9 1304.3,611.4 1305.7,610.9 1307.1,610.5 1308.6,610 1310,609.5 1311.4,609 1312.8,608.5 1314.2,608 1315.6,607.6 1317.1,607.1 1318.5,606.6 1319.9,606.1 1321.3,605.6 1322.7,605.1 1324.1,604.6 1325.6,604.1 1327,603.6 1328.4,603.2 1329.8,602.7 1331.3,602.2 1332.7,601.7 1334.1,601.3 1335.5,600.8 1337,600.4 1338.4,600 1339.8,599.5 1341.3,599.1 1342.7,598.7 1344.2,598.3 1345.6,597.9 1347,597.4 1348.5,597 1349.9,596.5 1351.3,596.1 1352.7,595.6 1354.2,595.1 1355.6,594.6 1357,594.1 1358.4,593.5 1359.8,593 1361.2,592.5 1362.6,592 1364,591.4 1365.4,590.9 1366.8,590.3 1368.2,589.8 1369.6,589.2 1371,588.6 1372.3,588.1 1373.7,587.5 1375.1,587 1376.5,586.4 1377.9,585.8 1379.3,585.2 1380.7,584.7 1382.1,584.1 1383.4,583.5 1384.8,583 1386.2,582.4 1387.6,581.8 1389,581.3 1390.4,580.7 1391.8,580.2 1393.2,579.6 1394.6,579.1 1396,578.5 1397.4,578 1398.8,577.5 1400.2,576.9 1401.6,576.4 1403,575.9 1404.4,575.4 1405.8,574.9 1407.2,574.4 1408.6,573.9 1410.1,573.4 1411.5,572.9 1412.9,572.4 1414.3,571.9 1415.7,571.4 1417.1,570.9 1418.6,570.4 1420,569.9 1421.4,569.4 1422.8,568.9 1424.2,568.4 1425.6,568 1427.1,567.5 1428.5,567 1429.9,566.5 1431.3,566 1432.7,565.5 1434.1,565 1435.6,564.5 1437,564 1438.4,563.5 1439.8,563 1441.2,562.5 1442.6,562 1444,561.5 1445.4,561 1446.9,560.5 1448.3,559.9 1449.7,559.4 1451.1,558.9 1452.5,558.4 1453.9,557.8 1455.3,557.3 1456.7,556.8 1458.1,556.2 1459.5,555.7 1460.9,555.2 1462.3,554.6 1463.7,554.1 1465.1,553.5 1466.5,553 1467.9,552.4 1469.3,551.9 1470.6,551.3 1472,550.8 1473.4,550.2 1474.8,549.7 1476.2,549.1 1477.6,548.5 1479,548 1480.4,547.4 1481.8,546.8 1483.2,546.3 1484.6,545.7 1485.9,545.1 1487.3,544.6 1488.7,544 1490.1,543.4 1491.5,542.9 1492.9,542.3 1494.3,541.7 1495.6,541.1 1497,540.5 1498.4,540 1499.8,539.4 1501.2,538.8 1502.6,538.2 1503.9,537.6 1505.3,537.1 1506.7,536.5 1508.1,535.9 1509.5,535.3 1510.8,534.7 1512.2,534.2 1513.6,533.6 1515,533 1516.4,532.4 1517.8,531.8 1519.1,531.2 1520.5,530.6 1521.9,530 1523.3,529.5 1524.6,528.9 1526,528.3 1527.4,527.7 1528.8,527.1 1530.1,526.4 1531.5,525.8 1532.9,525.2 1534.2,524.6 1535.6,524 1537,523.4 1538.3,522.7 1539.7,522.1 1541,521.5 1542.4,520.8 1543.8,520.2 1545.1,519.5 1546.5,518.9 1547.8,518.2 1549.1,517.5 1550.5,516.9 1551.8,516.2 1553.2,515.5 1554.5,514.8 1555.8,514.1 1557.1,513.4 1558.4,512.7 1559.8,512 1561.1,511.2 1562.4,510.5 1563.7,509.8 1565,509 1566.3,508.3 1567.6,507.5 1568.9,506.8 1570.2,506 1571.5,505.2 1572.7,504.5 1574,503.7 1575.3,502.9 1576.6,502.1 1577.9,501.3 1579.2,500.6 1580.4,499.8 1581.7,499 1583,498.2 1584.2,497.4 1585.5,496.6 1586.8,495.8 1588,494.9 1589.3,494.1 1590.5,493.3 1591.8,492.5 1593,491.6 1594.2,490.8 1595.5,489.9 1596.7,489 1597.9,488.1 1599.1,487.3 1600.3,486.4 1601.5,485.5 1602.7,484.5 1603.9,483.6 1605,482.7 1606.2,481.7 1607.4,480.8 1608.5,479.8 1609.7,478.8 1610.8,477.9 1611.9,476.9 1613.1,475.9 1614.2,474.9 1615.3,473.9 1616.4,472.9 1617.6,471.9 1618.7,470.9 1619.8,469.9 1620.9,468.9 1622,467.9 1623.1,466.9 1624.2,465.9 1625.3,464.9 1626.5,463.9 1627.6,462.9 1628.7,461.9 1629.8,460.8 1630.9,459.8 1632,458.8 1633.1,457.8 1634.2,456.8 1635.3,455.7 1636.3,454.7 1637.4,453.7 1638.5,452.6 1639.6,451.6 1640.7,450.6 1641.8,449.5 1642.8,448.5 1643.9,447.4 1645,446.4 1646,445.3 1647.1,444.2 1648.1,443.2 1649.2,442.1 1650.3,441 1651.3,440 1652.3,438.9 1653.4,437.8 1654.4,436.7 1655.4,435.6 1656.5,434.5 1657.5,433.4 1658.5,432.3 1659.5,431.2 1660.5,430.1 1661.5,429 1662.5,427.9 1663.5,426.8 1664.5,425.7 1665.6,424.6 1666.6,423.4 1667.6,422.3 1668.6,421.2 1669.6,420.1 1670.6,419 1671.6,417.9 1672.6,416.8 1673.6,415.6 1674.6,414.5 1675.6,413.4 1676.6,412.3 1677.6,411.2 1678.6,410.1 1679.6,409 1680.7,407.9 1681.7,406.8 1682.7,405.7 1683.7,404.5 1684.7,403.4 1685.7,402.3 1686.7,401.2 1687.7,400.1 1688.7,399 1689.7,397.9 1690.7,396.7 1691.7,395.6 1692.7,394.5 1693.7,393.4 1694.7,392.3 1695.8,391.2 1696.8,390.1 1697.8,389 1698.8,387.9 1699.9,386.8 1700.9,385.8 1701.9,384.7 1703,383.6 1704,382.5 1705,381.4 1706.1,380.3 1707.1,379.3 1708.2,378.2 1709.2,377.1 1710.3,376 1711.3,375 1712.4,373.9 1713.4,372.8 1714.5,371.8 1715.5,370.7 1716.6,369.6 1717.6,368.6 1718.7,367.5 1719.8,366.4 1720.8,365.4 1721.9,364.3 1723,363.3 1724,362.2 1725.1,361.2 1726.2,360.1 1727.3,359.1 1728.3,358.1 1729.4,357 1730.5,356 1731.6,355 1732.7,353.9 1733.8,352.9 1734.9,351.9 1736,350.8 1737.1,349.8 1738.2,348.8 1739.3,347.8 1740.4,346.8 1741.5,345.7 1742.6,344.7 1743.7,343.7 1744.8,342.7 1745.9,341.7 1747,340.7 1748.1,339.7 1749.2,338.7 1750.3,337.7 1751.5,336.7 1752.6,335.7 1753.7,334.7 1754.8,333.7 1756,332.7 1757.1,331.7 1758.2,330.7 1759.4,329.8 1760.5,328.8 1761.6,327.8 1762.8,326.8 1763.9,325.8 1765,324.9 1766.2,323.9 1767.3,322.9 1768.5,322 1769.6,321 1770.7,320 1771.9,319 1773,318.1 1774.2,317.1 1775.3,316.1 1776.5,315.2 1777.6,314.2 1778.8,313.2 1779.9,312.3 1781,311.3 1782.2,310.3 1783.3,309.3 1784.5,308.4 1785.6,307.4 1786.8,306.4 1787.9,305.5 1789,304.5 1790.2,303.5 1791.3,302.5 1792.4,301.5 1793.6,300.5 1794.7,299.6 1795.8,298.6 1796.9,297.6 1798.1,296.6 1799.2,295.6 1800.3,294.6 1801.4,293.6 1802.5,292.6 1803.7,291.6 1804.8,290.6 1805.9,289.6 1807,288.6 1808.2,287.6 1809.3,286.7 1810.4,285.7 1811.6,284.7 1812.7,283.7 1813.9,282.8 1815,281.8 1816.2,280.9 1817.4,279.9 1818.5,279 1819.7,278.1 1820.9,277.1 1822.1,276.2 1823.3,275.3 1824.5,274.4 1825.7,273.5 1826.9,272.6 1828.1,271.7 1829.3,270.9 1830.5,270 1831.8,269.1 1833,268.3 1834.2,267.4 1835.5,266.6 1836.7,265.8 1838,264.9 1839.2,264.1 1840.5,263.3 1841.7,262.4 1843,261.6 1844.2,260.8 1845.5,260 1846.8,259.2 1848,258.4 1849.3,257.6 1850.6,256.8 1851.9,256 1853.1,255.3 1854.4,254.5 1855.7,253.7 1857,252.9 1858.3,252.2 1859.6,251.4 1860.9,250.7 1862.2,249.9 1863.5,249.1 1864.8,248.4 1866.1,247.7 1867.4,246.9 1868.7,246.2 1870,245.5 1871.3,244.8 1872.6,244 1873.9,243.3 1875.3,242.6 1876.6,241.9 1877.9,241.2 1879.2,240.5 1880.6,239.8 1881.9,239.1 1883.2,238.4 1884.6,237.8 1885.9,237.1 1887.3,236.4 1888.6,235.7 1889.9,235.1 1891.3,234.4 1892.6,233.7 1894,233.1 1895.3,232.4 1896.7,231.7 1898,231.1 1899.3,230.4 1900.7,229.8 1902,229.1 1903.4,228.5 1904.7,227.8 1906.1,227.2 1907.5,226.5 1908.8,225.9 1910.2,225.2 1911.5,224.6 1912.9,224 1914.3,223.4 1915.6,222.7 1917,222.1 1918.3,221.5 1919.7,220.9 1921.1,220.2 1922.4,219.6 1923.8,219 1925.2,218.4 1926.6,217.8 1927.9,217.2 1929.3,216.6 1930.7,216 1932,215.4 1933.4,214.8 1934.8,214.2 1936.2,213.6 1937.5,213 1938.9,212.4 1940.3,211.8 1941.7,211.2 1943,210.6 1944.4,210 1945.8,209.4 1947.2,208.8 1948.5,208.2 1949.9,207.6 1951.3,207 1952.7,206.4 1954,205.8 1955.4,205.2 1956.8,204.7 1958.2,204.1 1959.6,203.5 1961,202.9 1962.4,202.4 1963.7,201.8 1965.1,201.2 1966.5,200.7 1967.9,200.1 1969.3,199.6 1970.7,199.1 1972.1,198.5 1973.5,198 1974.9,197.5 1976.4,197 1977.8,196.5 1979.2,196 1980.6,195.5 1982,195 1983.4,194.6 1984.9,194.1 1986.3,193.6 1987.7,193.1 1989.1,192.7 1990.6,192.2 1992,191.8 1993.4,191.3 1994.9,190.8 1996.3,190.4 1997.7,190 1999.2,189.5 2000.6,189.1 2002,188.7 2003.5,188.2 2004.9,187.8 2006.3,187.4 2007.8,187 2009.2,186.5 2010.7,186.1 2012.1,185.7 2013.5,185.3 2015,184.9 2016.4,184.5 2017.9,184.1 2019.3,183.7 2020.8,183.4 2022.2,183 2023.7,182.6 2025.1,182.3 2026.6,181.9"/>
<marker id="m6_2" markerUnits="userSpaceOnUse" markerWidth="60" markerHeight="60" viewBox="-30 -30 60 60" refX="0" refY="0" overflow="visible" fill="#00008b"><polygon points="-21.5,0 0,-13.8 0,13.8"/></marker>
<polyline fill="none" stroke="none" marker-start="url(#m6_2)" marker-mid="url(#m6_2)" marker-end="url(#m6_2)" points="2026.6,182.4 2025.1,182.6 2023.6,182.8 2022.1,183 2020.7,183.2 2019.2,183.3 2017.7,183.5 2016.2,183.7 2014.7,183.9 2013.2,184.1 2011.7,184.4 2010.3,184.6 2008.8,184.8 2007.3,185 2005.8,185.2 2004.3,185.4 2002.8,185.6 2001.4,185.8 1999.9,186.1 1998.4,186.3 1996.9,186.5 1995.4,186.7 1993.9,187 1992.5,187.2 1991,187.4 1989.5,187.7 1988,187.9 1986.5,188.2 1985.1,188.4 1983.6,188.7 1982.1,188.9 1980.6,189.2 1979.2,189.4 1977.7,189.7 1976.2,189.9 1974.7,190.2 1973.3,190.5 1971.8,190.7 1970.3,191 1968.8,191.3 1967.4,191.5 1965.9,191.8 1964.4,192.1 1962.9,192.4 1961.5,192.6 1960,192.9 1958.5,193.2 1957,193.5 1955.6,193.7 1954.1,194 1952.6,194.3 1951.1,194.6 1949.7,194.8 1948.2,195.1 1946.7,195.4 1945.3,195.7 1943.8,195.9 1942.3,196.2 1940.8,196.5 1939.4,196.8 1937.9,197.1 1936.4,197.4 1935,197.7 1933.5,198 1932,198.2 1930.5,198.5 1929.1,198.9 1927.6,199.2 1926.1,199.5 1924.7,199.8 1923.2,200.1 1921.7,200.4 1920.3,200.8 1918.8,201.1 1917.4,201.4 1915.9,201.8 1914.5,202.1 1913,202.5 1911.5,202.9 1910.1,203.2 1908.6,203.6 1907.2,204 1905.7,204.3 1904.3,204.7 1902.8,205.1 1901.4,205.5 1900,205.9 1898.5,206.3 1897.1,206.7 1895.6,207.1 1894.2,207.6 1892.7,208 1891.3,208.4 1889.9,208.8 1888.4,209.3 1887,209.7"/>
<marker id="m6_3" markerUnits="userSpaceOnUse" markerWidth="60" markerHeight="60" viewBox="-30 -30 60 60" refX="0" refY="0" overflow="visible" fill="#00008b"><polygon points="-20.4,0 0,-13.1 0,13.1"/></marker>
<polyline fill="none" stroke="none" marker-start="url(#m6_3)" marker-mid="url(#m6_3)" marker-end="url(#m6_3)" points="1038.8,793 1039.5,797.9 1040.2,802.7 1040.8,807.6 1041.4,812.5 1041.9,817.4 1042.4,822.3 1042.8,827.2 1043.2,832.1 1043.5,837 1043.9,841.9 1044.3,846.8 1044.7,851.8 1045.1,856.7 1045.5,861.6 1045.9,866.5 1046.3,871.4 1046.7,876.3 1047.1,881.2 1047.5,886.1 1047.8,891 1048.2,895.9 1048.6,900.8 1048.9,905.7 1049.3,910.6 1049.7,915.6 1050,920.5 1050.4,925.4 1050.8,930.3 1051.2,935.2 1051.6,940.1 1052,945"/>
<marker id="m6_4" markerUnits="userSpaceOnUse" markerWidth="60" markerHeight="60" viewBox="-30 -30 60 60" refX="0" refY="0" overflow="visible" fill="#00008b"><polygon points="-20.4,0 0,-13.1 0,13.1"/></marker>
<polyline fill="none" stroke="none" marker-start="url(#m6_4)" marker-mid="url(#m6_4)" marker-end="url(#m6_4)" points="1068.8,918 1068.7,913 1068.6,908.1 1068.5,903.1 1068.5,898.2 1068.5,893.2 1068.5,888.2 1068.5,883.3 1068.7,878.3 1069.1,873.4 1069.4,868.4 1069.9,863.5 1070.3,858.5 1071,853.6 1071.8,848.7 1072.6,843.8 1073.6,839 1074.6,834.1 1075.8,829.3 1077.1,824.5 1078.6,819.8 1080,815 1081.5,810.3 1083.1,805.6 1084.7,800.9 1086.4,796.3 1088.2,791.6 1090,787"/>
<marker id="m6" markerUnits="userSpaceOnUse" markerWidth="60" markerHeight="60" viewBox="-30 -30 60 60" refX="0" refY="0" overflow="visible" fill="#00008b"><polygon points="-21.5,0 0,-13.8 0,13.8"/></marker>
<polyline fill="none" stroke="none" marker-start="url(#m6)" marker-mid="url(#m6)" marker-end="url(#m6)" points="1053,987 1053,1018 1062,1025 1053,1116"/>
</g>
</g>
<g fill="#000">
<rect x="248.0" y="47.4" width="2098.3" height="6.4"/>
<rect x="248.0" y="1594.5" width="2098.3" height="5.2"/>
<rect x="248.0" y="47.4" width="5.0" height="1552.3"/>
<rect x="2339.7" y="47.4" width="6.6" height="1552.3"/>
<rect x="252.0" y="138.1" width="17.0" height="6.2"/>
<rect x="252.0" y="229.2" width="31.5" height="6.2"/>
<rect x="252.0" y="320.2" width="17.0" height="6.2"/>
<rect x="252.0" y="411.2" width="31.5" height="6.2"/>
<rect x="252.0" y="502.3" width="17.0" height="6.2"/>
<rect x="252.0" y="593.3" width="31.5" height="6.2"/>
<rect x="252.0" y="684.3" width="17.0" height="6.2"/>
<rect x="252.0" y="775.4" width="31.5" height="6.2"/>
<rect x="252.0" y="866.4" width="17.0" height="6.2"/>
<rect x="252.0" y="957.4" width="31.5" height="6.2"/>
<rect x="252.0" y="1048.5" width="17.0" height="6.2"/>
<rect x="252.0" y="1139.5" width="31.5" height="6.2"/>
<rect x="252.0" y="1230.6" width="17.0" height="6.2"/>
<rect x="252.0" y="1321.6" width="31.5" height="6.2"/>
<rect x="252.0" y="1412.6" width="17.0" height="6.2"/>
<rect x="252.0" y="1503.7" width="31.5" height="6.2"/>
<rect x="363.2" y="1579.0" width="6.2" height="18.7"/>
<rect x="479.5" y="1564.0" width="6.2" height="33.7"/>
<rect x="595.7" y="1579.0" width="6.2" height="18.7"/>
<rect x="712.0" y="1564.0" width="6.2" height="33.7"/>
<rect x="828.3" y="1579.0" width="6.2" height="18.7"/>
<rect x="944.6" y="1564.0" width="6.2" height="33.7"/>
<rect x="1060.9" y="1579.0" width="6.2" height="18.7"/>
<rect x="1177.1" y="1564.0" width="6.2" height="33.7"/>
<rect x="1293.4" y="1579.0" width="6.2" height="18.7"/>
<rect x="1409.7" y="1564.0" width="6.2" height="33.7"/>
<rect x="1526.0" y="1579.0" width="6.2" height="18.7"/>
<rect x="1642.3" y="1564.0" width="6.2" height="33.7"/>
<rect x="1758.5" y="1579.0" width="6.2" height="18.7"/>
<rect x="1874.8" y="1564.0" width="6.2" height="33.7"/>
<rect x="1991.1" y="1579.0" width="6.2" height="18.7"/>
<rect x="2107.4" y="1564.0" width="6.2" height="33.7"/>
<rect x="2223.7" y="1579.0" width="6.2" height="18.7"/>
</g>
<text class="tk" x="217.0" y="70.6" text-anchor="end">0</text>
<text class="tk" x="217.0" y="252.5" text-anchor="end">−1</text>
<text class="tk" x="217.0" y="434.5" text-anchor="end">−2</text>
<text class="tk" x="217.0" y="616.5" text-anchor="end">−3</text>
<text class="tk" x="217.0" y="798.5" text-anchor="end">−4</text>
<text class="tk" x="217.0" y="980.5" text-anchor="end">−5</text>
<text class="tk" x="217.0" y="1162.5" text-anchor="end">−6</text>
<text class="tk" x="217.0" y="1344.5" text-anchor="end">−7</text>
<text class="tk" x="217.0" y="1527.0" text-anchor="end">−8</text>
<text class="tk" x="242.3" y="1683.0" text-anchor="middle">−1.4</text>
<text class="tk" x="470.4" y="1683.0" text-anchor="middle">−1.2</text>
<text class="tk" x="698.4" y="1683.0" text-anchor="middle">−1.0</text>
<text class="tk" x="933.9" y="1683.0" text-anchor="middle">−0.8</text>
<text class="tk" x="1161.2" y="1683.0" text-anchor="middle">−0.6</text>
<text class="tk" x="1405.0" y="1683.0" text-anchor="middle">−0.4</text>
<text class="tk" x="1633.0" y="1683.0" text-anchor="middle">−0.2</text>
<text class="tk" x="1878.1" y="1683.0" text-anchor="middle">0.0</text>
<text class="tk" x="2117.6" y="1683.0" text-anchor="middle">0.2</text>
<text class="tk" x="2341.5" y="1683.0" text-anchor="middle">0.4</text>
<text class="ti" x="1296.0" y="1800.0" text-anchor="middle">Potential (V)</text>
<text class="ti" transform="translate(84.5,885.0) rotate(-90)" text-anchor="middle">LogCurrent (A/cm<tspan font-size="50" dy="-41">2</tspan><tspan dy="41">)</tspan></text>
<line x1="1735.3" y1="959.7" x2="1921.9" y2="959.7" stroke="#000000" stroke-width="4.3"/>
<rect x="1819.3" y="950.2" width="19" height="19" fill="#000000"/>
<text class="lg" x="2048.5" y="988.4">F1</text>
<line x1="1735.3" y1="1063.5" x2="1921.9" y2="1063.5" stroke="#ff0000" stroke-width="2.8"/>
<ellipse cx="1828.8" cy="1063.8" rx="10" ry="10.6" fill="#ff0000"/>
<text class="lg" x="2048.5" y="1090.5">F2</text>
<line x1="1735.3" y1="1168.6" x2="1921.9" y2="1168.6" stroke="#0000ff" stroke-width="2.8"/>
<polygon points="1828.8,1155.4 1841.0,1177.1 1816.6,1177.1" fill="#0000ff"/>
<text class="lg" x="2048.5" y="1196.5">F3</text>
<line x1="1735.3" y1="1273.8" x2="1921.9" y2="1273.8" stroke="#ff00ff" stroke-width="2.8"/>
<polygon points="1828.8,1288.4 1841.0,1265.2 1816.6,1265.2" fill="#ff00ff"/>
<text class="lg" x="2048.5" y="1300.6">F4</text>
<line x1="1735.3" y1="1377.6" x2="1921.9" y2="1377.6" stroke="#008000" stroke-width="4.4"/>
<polygon points="1828.8,1363.4 1842.2,1377.6 1828.8,1391.8 1815.4,1377.6" fill="#008000"/>
<text class="lg" x="2048.5" y="1405.9">F5</text>
<line x1="1735.3" y1="1484.0" x2="1921.9" y2="1484.0" stroke="#00008b" stroke-width="2.8"/>
<polygon points="1815.8,1483.4 1835.4,1471.6 1835.4,1495.2" fill="#00008b"/>
<text class="lg" x="1944.0" y="1510.7">Substrate</text>
</svg></body></html>
